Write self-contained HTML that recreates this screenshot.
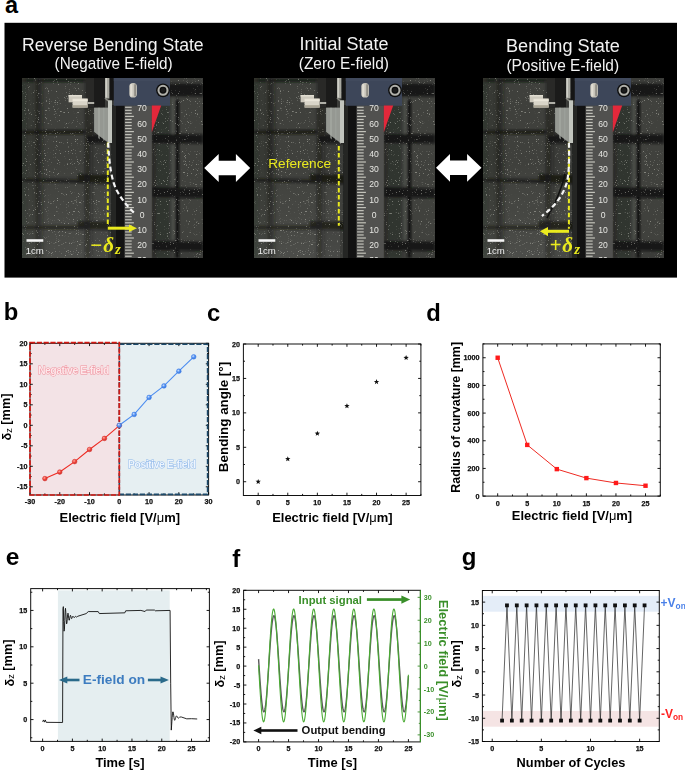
<!DOCTYPE html>
<html><head><meta charset="utf-8"><title>Figure</title>
<style>
html,body{margin:0;padding:0;background:#fff;width:685px;height:771px;overflow:hidden;}
svg{display:block;font-family:"Liberation Sans", sans-serif;}
</style></head><body>
<svg width="685" height="771" viewBox="0 0 685 771">
<defs>
<linearGradient id="lsh" x1="0" y1="0" x2="1" y2="0"><stop offset="0" stop-color="#1c1d1a" stop-opacity="0.75"/><stop offset="1" stop-color="#1c1d1a" stop-opacity="0"/></linearGradient>
<filter id="speck" x="0" y="0" width="100%" height="100%" filterUnits="objectBoundingBox"><feTurbulence type="fractalNoise" baseFrequency="1.1" numOctaves="2" seed="11" result="n"/><feColorMatrix in="n" type="matrix" values="0 0 0 0 0.78  0 0 0 0 0.78  0 0 0 0 0.7  8 0 0 0 -5.3"/><feGaussianBlur stdDeviation="0.3"/></filter>
<linearGradient id="lgt" x1="0" y1="0" x2="0" y2="1"><stop offset="0" stop-color="#fff" stop-opacity="0"/><stop offset="1" stop-color="#fff" stop-opacity="0.07"/></linearGradient>
<filter id="blur1" x="-10%" y="-10%" width="120%" height="120%"><feGaussianBlur stdDeviation="1.1"/></filter>
<radialGradient id="gr" cx="0.38" cy="0.35" r="0.7"><stop offset="0" stop-color="#ffb0a8"/><stop offset="0.45" stop-color="#f04a40"/><stop offset="1" stop-color="#c82420"/></radialGradient>
<radialGradient id="gb" cx="0.38" cy="0.35" r="0.7"><stop offset="0" stop-color="#d0e2ff"/><stop offset="0.45" stop-color="#5a96f2"/><stop offset="1" stop-color="#2f70dc"/></radialGradient>
</defs>
<rect x="0" y="0" width="685" height="771" fill="#fff"/>
<text x="5.10" y="12.90" font-size="23.5" fill="#000" font-weight="bold" text-anchor="start" >a</text><rect x="4.5" y="22.8" width="672.5" height="254.8" fill="#000"/><g transform="translate(22,78)"><svg x="0" y="0" width="181" height="180" overflow="hidden"><rect x="0" y="0" width="181" height="180" fill="#3b3c39" /><rect x="20" y="5" width="44" height="47" fill="#3f403c" /><rect x="20" y="58" width="42" height="40" fill="#3f403c" /><rect x="20" y="105" width="42" height="40" fill="#3f403c" /><rect x="20" y="153" width="42" height="27" fill="#3f403c" /><rect x="66" y="108" width="22" height="35" fill="#3f403c" /><rect x="0" y="0" width="12" height="180" fill="#373934" /><rect x="157" y="19" width="24" height="37" fill="#40413d" /><rect x="157" y="66" width="24" height="43" fill="#40413d" /><rect x="157" y="121" width="24" height="42" fill="#40413d" /><g filter="url(#blur1)"><rect x="0" y="0.5" width="70" height="3.5" fill="#141513" opacity="0.8"/><rect x="12.5" y="0" width="3" height="180" fill="#2e302b" opacity="0.8"/><rect x="14" y="0" width="9" height="180" fill="url(#lsh)"/><rect x="64" y="56" width="8" height="124" fill="url(#lsh)"/><rect x="0" y="0" width="4" height="180" fill="#2e302b" opacity="0.5"/><polygon points="0,52.5 64,52 72,46 72,58 64,56 0,56" fill="#141513" opacity="0.85"/><rect x="64" y="57" width="26" height="8.5" fill="#141513" opacity="0.95"/><polygon points="64,20 72,20 72,58 64,58" fill="#2a2b28" opacity="0.8"/><polygon points="0,100.5 64,102 64,105 0,103.5" fill="#141513" opacity="0.85"/><rect x="0" y="148" width="64" height="3" fill="#141513" opacity="0.85"/><rect x="62.5" y="0" width="2.5" height="180" fill="#2a2b28" opacity="0.8"/><polygon points="56,96 91,97 91,106 56,104" fill="#141513" opacity="0.9"/><polygon points="56,143 91,144 91,152 56,151" fill="#141513" opacity="0.9"/><rect x="130" y="27" width="18" height="153" fill="#2c2d29" opacity="0.55"/><rect x="130" y="27" width="4" height="153" fill="#2a2b27" opacity="0.9"/><polygon points="140,5.5 181,6 181,18.5 140,18" fill="#141513" opacity="0.97"/><rect x="153.5" y="22" width="3.5" height="38" fill="#101010" opacity="0.95"/><polygon points="130,56 181,56.5 181,65.5 130,65" fill="#141513" opacity="0.97"/><rect x="153.5" y="65" width="3.5" height="46" fill="#101010" opacity="0.95"/><polygon points="130,109 181,111 181,120 130,119" fill="#141513" opacity="0.97"/><rect x="153.5" y="119" width="3.5" height="45" fill="#101010" opacity="0.95"/><polygon points="130,163 181,164 181,173 130,172" fill="#141513" opacity="0.97"/><rect x="153.5" y="172" width="3.5" height="8" fill="#101010" opacity="0.95"/><rect x="149.5" y="20" width="3.5" height="36" fill="#50524c" opacity="0.8"/><rect x="149.5" y="67" width="3.5" height="41" fill="#50524c" opacity="0.8"/><rect x="149.5" y="121" width="3.5" height="41" fill="#50524c" opacity="0.8"/></g><rect x="0" y="0" width="181" height="180" filter="url(#speck)" opacity="0.4"/><rect x="0" y="80" width="86" height="100" fill="url(#lgt)"/><rect x="89.5" y="27" width="13.5" height="153" fill="#121212" /><rect x="89.5" y="27" width="4.5" height="153" fill="#252624" /><rect x="64" y="0" width="19" height="29.7" fill="#1b1b1a" /><rect x="64" y="0" width="8" height="29.7" fill="#292927" /><rect x="87.5" y="0" width="4.5" height="22.5" fill="#151515" /><rect x="83" y="0" width="4.3" height="20.4" fill="#a9a9a1" /><rect x="83.6" y="0" width="1.4" height="19.5" fill="#cfcfc7" /><path d="M83,20 Q85,22.8 88.5,23.5" stroke="#8a8a82" stroke-width="1.3" fill="none"/><rect x="91.8" y="0" width="56.2" height="27.3" fill="#3d4659" /><rect x="91.8" y="0" width="56.2" height="3" fill="#414a5d" /><rect x="91.8" y="25.3" width="56.2" height="2.4" fill="#3d4658" /><rect x="107.3" y="5" width="7.6" height="14.5" rx="3.6" fill="#c7c4b9"/><rect x="108.2" y="6" width="2.2" height="12.5" rx="1" fill="#e0ddd2"/><rect x="112.2" y="6" width="1.8" height="12.5" rx="0.9" fill="#8f8c84"/><circle cx="141" cy="12.3" r="6.9" fill="#0e0e0e"/><circle cx="141" cy="12.3" r="4.5" fill="none" stroke="#b0b0aa" stroke-width="2.1"/><circle cx="141" cy="12.3" r="2.2" fill="#1c1c1c"/><rect x="46.6" y="17" width="13.4" height="7.3" fill="#cdc9bd" /><rect x="46.6" y="17" width="13.4" height="1.5" fill="#e2ded2" /><rect x="50.6" y="20.4" width="15.1" height="9.2" fill="#d9d5c8" /><rect x="50.6" y="21.2" width="15.1" height="2" fill="#ebe7da" /><rect x="50.6" y="27.2" width="15.1" height="2.4" fill="#a8a393" /><rect x="65.7" y="24" width="6.5" height="2" fill="#b0b0a8" /><polygon points="72.2,29.7 86,29.7 86,22.5 90,22.5 90,65 86.5,65 72.2,53.8" fill="#8b8e88" /><polygon points="72.2,29.7 86,29.7 86,64 80,60 72.2,53.8" fill="#9a9d97" opacity="0.7"/><polygon points="76,29.7 78,29.7 78,61.5 76,60" fill="#a8aba5" opacity="0.6"/><polygon points="81,29.7 82.5,29.7 82.5,63 81,62.5" fill="#a2a59f" opacity="0.5"/><polygon points="86,22.5 90,22.5 90,65 86.5,65 86,64.6" fill="#c2c5be" /><rect x="102.5" y="27.7" width="27.3" height="152.3" fill="#51514f" /><rect x="103.1" y="28.68" width="6.6" height="1.2" fill="#c2c2ba"/><rect x="103.1" y="31.72" width="6.6" height="1.2" fill="#c2c2ba"/><rect x="103.1" y="34.76" width="6.6" height="1.2" fill="#c2c2ba"/><rect x="103.1" y="37.80" width="8.8" height="1.2" fill="#c2c2ba"/><rect x="103.1" y="40.84" width="6.6" height="1.2" fill="#c2c2ba"/><rect x="103.1" y="43.88" width="6.6" height="1.2" fill="#c2c2ba"/><rect x="103.1" y="46.92" width="6.6" height="1.2" fill="#c2c2ba"/><rect x="103.1" y="49.96" width="6.6" height="1.2" fill="#c2c2ba"/><rect x="103.1" y="53.00" width="8.8" height="1.2" fill="#c2c2ba"/><rect x="103.1" y="56.04" width="6.6" height="1.2" fill="#c2c2ba"/><rect x="103.1" y="59.08" width="6.6" height="1.2" fill="#c2c2ba"/><rect x="103.1" y="62.12" width="6.6" height="1.2" fill="#c2c2ba"/><rect x="103.1" y="65.16" width="6.6" height="1.2" fill="#c2c2ba"/><rect x="103.1" y="68.20" width="8.8" height="1.2" fill="#c2c2ba"/><rect x="103.1" y="71.24" width="6.6" height="1.2" fill="#c2c2ba"/><rect x="103.1" y="74.28" width="6.6" height="1.2" fill="#c2c2ba"/><rect x="103.1" y="77.32" width="6.6" height="1.2" fill="#c2c2ba"/><rect x="103.1" y="80.36" width="6.6" height="1.2" fill="#c2c2ba"/><rect x="103.1" y="83.40" width="8.8" height="1.2" fill="#c2c2ba"/><rect x="103.1" y="86.44" width="6.6" height="1.2" fill="#c2c2ba"/><rect x="103.1" y="89.48" width="6.6" height="1.2" fill="#c2c2ba"/><rect x="103.1" y="92.52" width="6.6" height="1.2" fill="#c2c2ba"/><rect x="103.1" y="95.56" width="6.6" height="1.2" fill="#c2c2ba"/><rect x="103.1" y="98.60" width="8.8" height="1.2" fill="#c2c2ba"/><rect x="103.1" y="101.64" width="6.6" height="1.2" fill="#c2c2ba"/><rect x="103.1" y="104.68" width="6.6" height="1.2" fill="#c2c2ba"/><rect x="103.1" y="107.72" width="6.6" height="1.2" fill="#c2c2ba"/><rect x="103.1" y="110.76" width="6.6" height="1.2" fill="#c2c2ba"/><rect x="103.1" y="113.80" width="8.8" height="1.2" fill="#c2c2ba"/><rect x="103.1" y="116.84" width="6.6" height="1.2" fill="#c2c2ba"/><rect x="103.1" y="119.88" width="6.6" height="1.2" fill="#c2c2ba"/><rect x="103.1" y="122.92" width="6.6" height="1.2" fill="#c2c2ba"/><rect x="103.1" y="125.96" width="6.6" height="1.2" fill="#c2c2ba"/><rect x="103.1" y="129.00" width="8.8" height="1.2" fill="#c2c2ba"/><rect x="103.1" y="132.04" width="6.6" height="1.2" fill="#c2c2ba"/><rect x="103.1" y="135.08" width="6.6" height="1.2" fill="#c2c2ba"/><rect x="103.1" y="138.12" width="6.6" height="1.2" fill="#c2c2ba"/><rect x="103.1" y="141.16" width="6.6" height="1.2" fill="#c2c2ba"/><rect x="103.1" y="144.20" width="8.8" height="1.2" fill="#c2c2ba"/><rect x="103.1" y="147.24" width="6.6" height="1.2" fill="#c2c2ba"/><rect x="103.1" y="150.28" width="6.6" height="1.2" fill="#c2c2ba"/><rect x="103.1" y="153.32" width="6.6" height="1.2" fill="#c2c2ba"/><rect x="103.1" y="156.36" width="6.6" height="1.2" fill="#c2c2ba"/><rect x="103.1" y="159.40" width="8.8" height="1.2" fill="#c2c2ba"/><rect x="103.1" y="162.44" width="6.6" height="1.2" fill="#c2c2ba"/><rect x="103.1" y="165.48" width="6.6" height="1.2" fill="#c2c2ba"/><rect x="103.1" y="168.52" width="6.6" height="1.2" fill="#c2c2ba"/><rect x="103.1" y="171.56" width="6.6" height="1.2" fill="#c2c2ba"/><rect x="103.1" y="174.60" width="8.8" height="1.2" fill="#c2c2ba"/><rect x="103.1" y="177.64" width="6.6" height="1.2" fill="#c2c2ba"/><text x="120.1" y="33.3" font-size="8.6" fill="#e6e6e2" text-anchor="middle">70</text><text x="120.1" y="48.5" font-size="8.6" fill="#e6e6e2" text-anchor="middle">60</text><text x="120.1" y="63.7" font-size="8.6" fill="#e6e6e2" text-anchor="middle">50</text><text x="120.1" y="78.9" font-size="8.6" fill="#e6e6e2" text-anchor="middle">40</text><text x="120.1" y="94.1" font-size="8.6" fill="#e6e6e2" text-anchor="middle">30</text><text x="120.1" y="109.3" font-size="8.6" fill="#e6e6e2" text-anchor="middle">20</text><text x="120.1" y="124.5" font-size="8.6" fill="#e6e6e2" text-anchor="middle">10</text><text x="120.1" y="139.7" font-size="8.6" fill="#e6e6e2" text-anchor="middle">0</text><text x="120.1" y="154.9" font-size="8.6" fill="#e6e6e2" text-anchor="middle">10</text><text x="120.1" y="170.1" font-size="8.6" fill="#e6e6e2" text-anchor="middle">20</text><text x="120.1" y="185.3" font-size="8.6" fill="#e6e6e2" text-anchor="middle">30</text><polygon points="129.8,27.5 139.2,27.5 129.8,54.2" fill="#e3283b" /><rect x="4.5" y="161.2" width="16.8" height="2.6" fill="#f4f4f4" /><text x="3.7" y="176.0" font-size="9.6" fill="#f0f0f0">1cm</text><polyline points="85.8,64.6 85.8,147" fill="none" stroke="#eaea1e" stroke-width="2" stroke-dasharray="4.5 2.5"/><path d="M86.2,64.6 C87,85 89.5,102 94.5,112 C100,122 106,129 113.2,136" fill="none" stroke="#f4f4f4" stroke-width="2.2" stroke-dasharray="5 3"/><rect x="85.8" y="148.7" width="22" height="3" fill="#eaea1e"/><polygon points="107,146.5 115,150.2 107,154" fill="#eaea1e"/><text x="67.6" y="173.6" font-size="21" font-weight="bold" fill="#eaea1e" font-family='"Liberation Serif", serif' font-style="italic">−<tspan dx="0.8" dy="0.8">δ</tspan><tspan font-size="15" dx="1.2" dy="1.6">z</tspan></text></svg></g><g transform="translate(254,78)"><svg x="0" y="0" width="181" height="180" overflow="hidden"><rect x="0" y="0" width="181" height="180" fill="#3b3c39" /><rect x="20" y="5" width="44" height="47" fill="#3f403c" /><rect x="20" y="58" width="42" height="40" fill="#3f403c" /><rect x="20" y="105" width="42" height="40" fill="#3f403c" /><rect x="20" y="153" width="42" height="27" fill="#3f403c" /><rect x="66" y="108" width="22" height="35" fill="#3f403c" /><rect x="0" y="0" width="12" height="180" fill="#373934" /><rect x="157" y="19" width="24" height="37" fill="#40413d" /><rect x="157" y="66" width="24" height="43" fill="#40413d" /><rect x="157" y="121" width="24" height="42" fill="#40413d" /><g filter="url(#blur1)"><rect x="0" y="0.5" width="70" height="3.5" fill="#141513" opacity="0.8"/><rect x="12.5" y="0" width="3" height="180" fill="#2e302b" opacity="0.8"/><rect x="14" y="0" width="9" height="180" fill="url(#lsh)"/><rect x="64" y="56" width="8" height="124" fill="url(#lsh)"/><rect x="0" y="0" width="4" height="180" fill="#2e302b" opacity="0.5"/><polygon points="0,52.5 64,52 72,46 72,58 64,56 0,56" fill="#141513" opacity="0.85"/><rect x="64" y="57" width="26" height="8.5" fill="#141513" opacity="0.95"/><polygon points="64,20 72,20 72,58 64,58" fill="#2a2b28" opacity="0.8"/><polygon points="0,100.5 64,102 64,105 0,103.5" fill="#141513" opacity="0.85"/><rect x="0" y="148" width="64" height="3" fill="#141513" opacity="0.85"/><rect x="62.5" y="0" width="2.5" height="180" fill="#2a2b28" opacity="0.8"/><polygon points="56,96 91,97 91,106 56,104" fill="#141513" opacity="0.9"/><polygon points="56,143 91,144 91,152 56,151" fill="#141513" opacity="0.9"/><rect x="130" y="27" width="18" height="153" fill="#2c2d29" opacity="0.55"/><rect x="130" y="27" width="4" height="153" fill="#2a2b27" opacity="0.9"/><polygon points="140,5.5 181,6 181,18.5 140,18" fill="#141513" opacity="0.97"/><rect x="153.5" y="22" width="3.5" height="38" fill="#101010" opacity="0.95"/><polygon points="130,56 181,56.5 181,65.5 130,65" fill="#141513" opacity="0.97"/><rect x="153.5" y="65" width="3.5" height="46" fill="#101010" opacity="0.95"/><polygon points="130,109 181,111 181,120 130,119" fill="#141513" opacity="0.97"/><rect x="153.5" y="119" width="3.5" height="45" fill="#101010" opacity="0.95"/><polygon points="130,163 181,164 181,173 130,172" fill="#141513" opacity="0.97"/><rect x="153.5" y="172" width="3.5" height="8" fill="#101010" opacity="0.95"/><rect x="149.5" y="20" width="3.5" height="36" fill="#50524c" opacity="0.8"/><rect x="149.5" y="67" width="3.5" height="41" fill="#50524c" opacity="0.8"/><rect x="149.5" y="121" width="3.5" height="41" fill="#50524c" opacity="0.8"/></g><rect x="0" y="0" width="181" height="180" filter="url(#speck)" opacity="0.4"/><rect x="0" y="80" width="86" height="100" fill="url(#lgt)"/><rect x="89.5" y="27" width="13.5" height="153" fill="#121212" /><rect x="89.5" y="27" width="4.5" height="153" fill="#252624" /><rect x="64" y="0" width="19" height="29.7" fill="#1b1b1a" /><rect x="64" y="0" width="8" height="29.7" fill="#292927" /><rect x="87.5" y="0" width="4.5" height="22.5" fill="#151515" /><rect x="83" y="0" width="4.3" height="20.4" fill="#a9a9a1" /><rect x="83.6" y="0" width="1.4" height="19.5" fill="#cfcfc7" /><path d="M83,20 Q85,22.8 88.5,23.5" stroke="#8a8a82" stroke-width="1.3" fill="none"/><rect x="91.8" y="0" width="56.2" height="27.3" fill="#3d4659" /><rect x="91.8" y="0" width="56.2" height="3" fill="#414a5d" /><rect x="91.8" y="25.3" width="56.2" height="2.4" fill="#3d4658" /><rect x="107.3" y="5" width="7.6" height="14.5" rx="3.6" fill="#c7c4b9"/><rect x="108.2" y="6" width="2.2" height="12.5" rx="1" fill="#e0ddd2"/><rect x="112.2" y="6" width="1.8" height="12.5" rx="0.9" fill="#8f8c84"/><circle cx="141" cy="12.3" r="6.9" fill="#0e0e0e"/><circle cx="141" cy="12.3" r="4.5" fill="none" stroke="#b0b0aa" stroke-width="2.1"/><circle cx="141" cy="12.3" r="2.2" fill="#1c1c1c"/><rect x="46.6" y="17" width="13.4" height="7.3" fill="#cdc9bd" /><rect x="46.6" y="17" width="13.4" height="1.5" fill="#e2ded2" /><rect x="50.6" y="20.4" width="15.1" height="9.2" fill="#d9d5c8" /><rect x="50.6" y="21.2" width="15.1" height="2" fill="#ebe7da" /><rect x="50.6" y="27.2" width="15.1" height="2.4" fill="#a8a393" /><rect x="65.7" y="24" width="6.5" height="2" fill="#b0b0a8" /><polygon points="72.2,29.7 86,29.7 86,22.5 90,22.5 90,65 86.5,65 72.2,53.8" fill="#8b8e88" /><polygon points="72.2,29.7 86,29.7 86,64 80,60 72.2,53.8" fill="#9a9d97" opacity="0.7"/><polygon points="76,29.7 78,29.7 78,61.5 76,60" fill="#a8aba5" opacity="0.6"/><polygon points="81,29.7 82.5,29.7 82.5,63 81,62.5" fill="#a2a59f" opacity="0.5"/><polygon points="86,22.5 90,22.5 90,65 86.5,65 86,64.6" fill="#c2c5be" /><rect x="102.5" y="27.7" width="27.3" height="152.3" fill="#51514f" /><rect x="103.1" y="28.68" width="6.6" height="1.2" fill="#c2c2ba"/><rect x="103.1" y="31.72" width="6.6" height="1.2" fill="#c2c2ba"/><rect x="103.1" y="34.76" width="6.6" height="1.2" fill="#c2c2ba"/><rect x="103.1" y="37.80" width="8.8" height="1.2" fill="#c2c2ba"/><rect x="103.1" y="40.84" width="6.6" height="1.2" fill="#c2c2ba"/><rect x="103.1" y="43.88" width="6.6" height="1.2" fill="#c2c2ba"/><rect x="103.1" y="46.92" width="6.6" height="1.2" fill="#c2c2ba"/><rect x="103.1" y="49.96" width="6.6" height="1.2" fill="#c2c2ba"/><rect x="103.1" y="53.00" width="8.8" height="1.2" fill="#c2c2ba"/><rect x="103.1" y="56.04" width="6.6" height="1.2" fill="#c2c2ba"/><rect x="103.1" y="59.08" width="6.6" height="1.2" fill="#c2c2ba"/><rect x="103.1" y="62.12" width="6.6" height="1.2" fill="#c2c2ba"/><rect x="103.1" y="65.16" width="6.6" height="1.2" fill="#c2c2ba"/><rect x="103.1" y="68.20" width="8.8" height="1.2" fill="#c2c2ba"/><rect x="103.1" y="71.24" width="6.6" height="1.2" fill="#c2c2ba"/><rect x="103.1" y="74.28" width="6.6" height="1.2" fill="#c2c2ba"/><rect x="103.1" y="77.32" width="6.6" height="1.2" fill="#c2c2ba"/><rect x="103.1" y="80.36" width="6.6" height="1.2" fill="#c2c2ba"/><rect x="103.1" y="83.40" width="8.8" height="1.2" fill="#c2c2ba"/><rect x="103.1" y="86.44" width="6.6" height="1.2" fill="#c2c2ba"/><rect x="103.1" y="89.48" width="6.6" height="1.2" fill="#c2c2ba"/><rect x="103.1" y="92.52" width="6.6" height="1.2" fill="#c2c2ba"/><rect x="103.1" y="95.56" width="6.6" height="1.2" fill="#c2c2ba"/><rect x="103.1" y="98.60" width="8.8" height="1.2" fill="#c2c2ba"/><rect x="103.1" y="101.64" width="6.6" height="1.2" fill="#c2c2ba"/><rect x="103.1" y="104.68" width="6.6" height="1.2" fill="#c2c2ba"/><rect x="103.1" y="107.72" width="6.6" height="1.2" fill="#c2c2ba"/><rect x="103.1" y="110.76" width="6.6" height="1.2" fill="#c2c2ba"/><rect x="103.1" y="113.80" width="8.8" height="1.2" fill="#c2c2ba"/><rect x="103.1" y="116.84" width="6.6" height="1.2" fill="#c2c2ba"/><rect x="103.1" y="119.88" width="6.6" height="1.2" fill="#c2c2ba"/><rect x="103.1" y="122.92" width="6.6" height="1.2" fill="#c2c2ba"/><rect x="103.1" y="125.96" width="6.6" height="1.2" fill="#c2c2ba"/><rect x="103.1" y="129.00" width="8.8" height="1.2" fill="#c2c2ba"/><rect x="103.1" y="132.04" width="6.6" height="1.2" fill="#c2c2ba"/><rect x="103.1" y="135.08" width="6.6" height="1.2" fill="#c2c2ba"/><rect x="103.1" y="138.12" width="6.6" height="1.2" fill="#c2c2ba"/><rect x="103.1" y="141.16" width="6.6" height="1.2" fill="#c2c2ba"/><rect x="103.1" y="144.20" width="8.8" height="1.2" fill="#c2c2ba"/><rect x="103.1" y="147.24" width="6.6" height="1.2" fill="#c2c2ba"/><rect x="103.1" y="150.28" width="6.6" height="1.2" fill="#c2c2ba"/><rect x="103.1" y="153.32" width="6.6" height="1.2" fill="#c2c2ba"/><rect x="103.1" y="156.36" width="6.6" height="1.2" fill="#c2c2ba"/><rect x="103.1" y="159.40" width="8.8" height="1.2" fill="#c2c2ba"/><rect x="103.1" y="162.44" width="6.6" height="1.2" fill="#c2c2ba"/><rect x="103.1" y="165.48" width="6.6" height="1.2" fill="#c2c2ba"/><rect x="103.1" y="168.52" width="6.6" height="1.2" fill="#c2c2ba"/><rect x="103.1" y="171.56" width="6.6" height="1.2" fill="#c2c2ba"/><rect x="103.1" y="174.60" width="8.8" height="1.2" fill="#c2c2ba"/><rect x="103.1" y="177.64" width="6.6" height="1.2" fill="#c2c2ba"/><text x="120.1" y="33.3" font-size="8.6" fill="#e6e6e2" text-anchor="middle">70</text><text x="120.1" y="48.5" font-size="8.6" fill="#e6e6e2" text-anchor="middle">60</text><text x="120.1" y="63.7" font-size="8.6" fill="#e6e6e2" text-anchor="middle">50</text><text x="120.1" y="78.9" font-size="8.6" fill="#e6e6e2" text-anchor="middle">40</text><text x="120.1" y="94.1" font-size="8.6" fill="#e6e6e2" text-anchor="middle">30</text><text x="120.1" y="109.3" font-size="8.6" fill="#e6e6e2" text-anchor="middle">20</text><text x="120.1" y="124.5" font-size="8.6" fill="#e6e6e2" text-anchor="middle">10</text><text x="120.1" y="139.7" font-size="8.6" fill="#e6e6e2" text-anchor="middle">0</text><text x="120.1" y="154.9" font-size="8.6" fill="#e6e6e2" text-anchor="middle">10</text><text x="120.1" y="170.1" font-size="8.6" fill="#e6e6e2" text-anchor="middle">20</text><text x="120.1" y="185.3" font-size="8.6" fill="#e6e6e2" text-anchor="middle">30</text><polygon points="129.8,27.5 139.2,27.5 129.8,54.2" fill="#e3283b" /><rect x="4.5" y="161.2" width="16.8" height="2.6" fill="#f4f4f4" /><text x="3.7" y="176.0" font-size="9.6" fill="#f0f0f0">1cm</text><polyline points="84.8,68 84.8,147.8" fill="none" stroke="#eaea1e" stroke-width="2" stroke-dasharray="4.5 2.5"/><text x="14.3" y="90.0" font-size="13.6" fill="#eaea1e">Reference</text></svg></g><g transform="translate(483,78)"><svg x="0" y="0" width="181" height="180" overflow="hidden"><rect x="0" y="0" width="181" height="180" fill="#3b3c39" /><rect x="20" y="5" width="44" height="47" fill="#3f403c" /><rect x="20" y="58" width="42" height="40" fill="#3f403c" /><rect x="20" y="105" width="42" height="40" fill="#3f403c" /><rect x="20" y="153" width="42" height="27" fill="#3f403c" /><rect x="66" y="108" width="22" height="35" fill="#3f403c" /><rect x="0" y="0" width="12" height="180" fill="#373934" /><rect x="157" y="19" width="24" height="37" fill="#40413d" /><rect x="157" y="66" width="24" height="43" fill="#40413d" /><rect x="157" y="121" width="24" height="42" fill="#40413d" /><g filter="url(#blur1)"><rect x="0" y="0.5" width="70" height="3.5" fill="#141513" opacity="0.8"/><rect x="12.5" y="0" width="3" height="180" fill="#2e302b" opacity="0.8"/><rect x="14" y="0" width="9" height="180" fill="url(#lsh)"/><rect x="64" y="56" width="8" height="124" fill="url(#lsh)"/><rect x="0" y="0" width="4" height="180" fill="#2e302b" opacity="0.5"/><polygon points="0,52.5 64,52 72,46 72,58 64,56 0,56" fill="#141513" opacity="0.85"/><rect x="64" y="57" width="26" height="8.5" fill="#141513" opacity="0.95"/><polygon points="64,20 72,20 72,58 64,58" fill="#2a2b28" opacity="0.8"/><polygon points="0,100.5 64,102 64,105 0,103.5" fill="#141513" opacity="0.85"/><rect x="0" y="148" width="64" height="3" fill="#141513" opacity="0.85"/><rect x="62.5" y="0" width="2.5" height="180" fill="#2a2b28" opacity="0.8"/><polygon points="56,96 91,97 91,106 56,104" fill="#141513" opacity="0.9"/><polygon points="56,143 91,144 91,152 56,151" fill="#141513" opacity="0.9"/><rect x="130" y="27" width="18" height="153" fill="#2c2d29" opacity="0.55"/><rect x="130" y="27" width="4" height="153" fill="#2a2b27" opacity="0.9"/><polygon points="140,5.5 181,6 181,18.5 140,18" fill="#141513" opacity="0.97"/><rect x="153.5" y="22" width="3.5" height="38" fill="#101010" opacity="0.95"/><polygon points="130,56 181,56.5 181,65.5 130,65" fill="#141513" opacity="0.97"/><rect x="153.5" y="65" width="3.5" height="46" fill="#101010" opacity="0.95"/><polygon points="130,109 181,111 181,120 130,119" fill="#141513" opacity="0.97"/><rect x="153.5" y="119" width="3.5" height="45" fill="#101010" opacity="0.95"/><polygon points="130,163 181,164 181,173 130,172" fill="#141513" opacity="0.97"/><rect x="153.5" y="172" width="3.5" height="8" fill="#101010" opacity="0.95"/><rect x="149.5" y="20" width="3.5" height="36" fill="#50524c" opacity="0.8"/><rect x="149.5" y="67" width="3.5" height="41" fill="#50524c" opacity="0.8"/><rect x="149.5" y="121" width="3.5" height="41" fill="#50524c" opacity="0.8"/></g><rect x="0" y="0" width="181" height="180" filter="url(#speck)" opacity="0.4"/><rect x="0" y="80" width="86" height="100" fill="url(#lgt)"/><rect x="89.5" y="27" width="13.5" height="153" fill="#121212" /><rect x="89.5" y="27" width="4.5" height="153" fill="#252624" /><rect x="64" y="0" width="19" height="29.7" fill="#1b1b1a" /><rect x="64" y="0" width="8" height="29.7" fill="#292927" /><rect x="87.5" y="0" width="4.5" height="22.5" fill="#151515" /><rect x="83" y="0" width="4.3" height="20.4" fill="#a9a9a1" /><rect x="83.6" y="0" width="1.4" height="19.5" fill="#cfcfc7" /><path d="M83,20 Q85,22.8 88.5,23.5" stroke="#8a8a82" stroke-width="1.3" fill="none"/><rect x="91.8" y="0" width="56.2" height="27.3" fill="#3d4659" /><rect x="91.8" y="0" width="56.2" height="3" fill="#414a5d" /><rect x="91.8" y="25.3" width="56.2" height="2.4" fill="#3d4658" /><rect x="107.3" y="5" width="7.6" height="14.5" rx="3.6" fill="#c7c4b9"/><rect x="108.2" y="6" width="2.2" height="12.5" rx="1" fill="#e0ddd2"/><rect x="112.2" y="6" width="1.8" height="12.5" rx="0.9" fill="#8f8c84"/><circle cx="141" cy="12.3" r="6.9" fill="#0e0e0e"/><circle cx="141" cy="12.3" r="4.5" fill="none" stroke="#b0b0aa" stroke-width="2.1"/><circle cx="141" cy="12.3" r="2.2" fill="#1c1c1c"/><rect x="46.6" y="17" width="13.4" height="7.3" fill="#cdc9bd" /><rect x="46.6" y="17" width="13.4" height="1.5" fill="#e2ded2" /><rect x="50.6" y="20.4" width="15.1" height="9.2" fill="#d9d5c8" /><rect x="50.6" y="21.2" width="15.1" height="2" fill="#ebe7da" /><rect x="50.6" y="27.2" width="15.1" height="2.4" fill="#a8a393" /><rect x="65.7" y="24" width="6.5" height="2" fill="#b0b0a8" /><polygon points="72.2,29.7 86,29.7 86,22.5 90,22.5 90,65 86.5,65 72.2,53.8" fill="#8b8e88" /><polygon points="72.2,29.7 86,29.7 86,64 80,60 72.2,53.8" fill="#9a9d97" opacity="0.7"/><polygon points="76,29.7 78,29.7 78,61.5 76,60" fill="#a8aba5" opacity="0.6"/><polygon points="81,29.7 82.5,29.7 82.5,63 81,62.5" fill="#a2a59f" opacity="0.5"/><polygon points="86,22.5 90,22.5 90,65 86.5,65 86,64.6" fill="#c2c5be" /><rect x="102.5" y="27.7" width="27.3" height="152.3" fill="#51514f" /><rect x="103.1" y="28.68" width="6.6" height="1.2" fill="#c2c2ba"/><rect x="103.1" y="31.72" width="6.6" height="1.2" fill="#c2c2ba"/><rect x="103.1" y="34.76" width="6.6" height="1.2" fill="#c2c2ba"/><rect x="103.1" y="37.80" width="8.8" height="1.2" fill="#c2c2ba"/><rect x="103.1" y="40.84" width="6.6" height="1.2" fill="#c2c2ba"/><rect x="103.1" y="43.88" width="6.6" height="1.2" fill="#c2c2ba"/><rect x="103.1" y="46.92" width="6.6" height="1.2" fill="#c2c2ba"/><rect x="103.1" y="49.96" width="6.6" height="1.2" fill="#c2c2ba"/><rect x="103.1" y="53.00" width="8.8" height="1.2" fill="#c2c2ba"/><rect x="103.1" y="56.04" width="6.6" height="1.2" fill="#c2c2ba"/><rect x="103.1" y="59.08" width="6.6" height="1.2" fill="#c2c2ba"/><rect x="103.1" y="62.12" width="6.6" height="1.2" fill="#c2c2ba"/><rect x="103.1" y="65.16" width="6.6" height="1.2" fill="#c2c2ba"/><rect x="103.1" y="68.20" width="8.8" height="1.2" fill="#c2c2ba"/><rect x="103.1" y="71.24" width="6.6" height="1.2" fill="#c2c2ba"/><rect x="103.1" y="74.28" width="6.6" height="1.2" fill="#c2c2ba"/><rect x="103.1" y="77.32" width="6.6" height="1.2" fill="#c2c2ba"/><rect x="103.1" y="80.36" width="6.6" height="1.2" fill="#c2c2ba"/><rect x="103.1" y="83.40" width="8.8" height="1.2" fill="#c2c2ba"/><rect x="103.1" y="86.44" width="6.6" height="1.2" fill="#c2c2ba"/><rect x="103.1" y="89.48" width="6.6" height="1.2" fill="#c2c2ba"/><rect x="103.1" y="92.52" width="6.6" height="1.2" fill="#c2c2ba"/><rect x="103.1" y="95.56" width="6.6" height="1.2" fill="#c2c2ba"/><rect x="103.1" y="98.60" width="8.8" height="1.2" fill="#c2c2ba"/><rect x="103.1" y="101.64" width="6.6" height="1.2" fill="#c2c2ba"/><rect x="103.1" y="104.68" width="6.6" height="1.2" fill="#c2c2ba"/><rect x="103.1" y="107.72" width="6.6" height="1.2" fill="#c2c2ba"/><rect x="103.1" y="110.76" width="6.6" height="1.2" fill="#c2c2ba"/><rect x="103.1" y="113.80" width="8.8" height="1.2" fill="#c2c2ba"/><rect x="103.1" y="116.84" width="6.6" height="1.2" fill="#c2c2ba"/><rect x="103.1" y="119.88" width="6.6" height="1.2" fill="#c2c2ba"/><rect x="103.1" y="122.92" width="6.6" height="1.2" fill="#c2c2ba"/><rect x="103.1" y="125.96" width="6.6" height="1.2" fill="#c2c2ba"/><rect x="103.1" y="129.00" width="8.8" height="1.2" fill="#c2c2ba"/><rect x="103.1" y="132.04" width="6.6" height="1.2" fill="#c2c2ba"/><rect x="103.1" y="135.08" width="6.6" height="1.2" fill="#c2c2ba"/><rect x="103.1" y="138.12" width="6.6" height="1.2" fill="#c2c2ba"/><rect x="103.1" y="141.16" width="6.6" height="1.2" fill="#c2c2ba"/><rect x="103.1" y="144.20" width="8.8" height="1.2" fill="#c2c2ba"/><rect x="103.1" y="147.24" width="6.6" height="1.2" fill="#c2c2ba"/><rect x="103.1" y="150.28" width="6.6" height="1.2" fill="#c2c2ba"/><rect x="103.1" y="153.32" width="6.6" height="1.2" fill="#c2c2ba"/><rect x="103.1" y="156.36" width="6.6" height="1.2" fill="#c2c2ba"/><rect x="103.1" y="159.40" width="8.8" height="1.2" fill="#c2c2ba"/><rect x="103.1" y="162.44" width="6.6" height="1.2" fill="#c2c2ba"/><rect x="103.1" y="165.48" width="6.6" height="1.2" fill="#c2c2ba"/><rect x="103.1" y="168.52" width="6.6" height="1.2" fill="#c2c2ba"/><rect x="103.1" y="171.56" width="6.6" height="1.2" fill="#c2c2ba"/><rect x="103.1" y="174.60" width="8.8" height="1.2" fill="#c2c2ba"/><rect x="103.1" y="177.64" width="6.6" height="1.2" fill="#c2c2ba"/><text x="120.1" y="33.3" font-size="8.6" fill="#e6e6e2" text-anchor="middle">70</text><text x="120.1" y="48.5" font-size="8.6" fill="#e6e6e2" text-anchor="middle">60</text><text x="120.1" y="63.7" font-size="8.6" fill="#e6e6e2" text-anchor="middle">50</text><text x="120.1" y="78.9" font-size="8.6" fill="#e6e6e2" text-anchor="middle">40</text><text x="120.1" y="94.1" font-size="8.6" fill="#e6e6e2" text-anchor="middle">30</text><text x="120.1" y="109.3" font-size="8.6" fill="#e6e6e2" text-anchor="middle">20</text><text x="120.1" y="124.5" font-size="8.6" fill="#e6e6e2" text-anchor="middle">10</text><text x="120.1" y="139.7" font-size="8.6" fill="#e6e6e2" text-anchor="middle">0</text><text x="120.1" y="154.9" font-size="8.6" fill="#e6e6e2" text-anchor="middle">10</text><text x="120.1" y="170.1" font-size="8.6" fill="#e6e6e2" text-anchor="middle">20</text><text x="120.1" y="185.3" font-size="8.6" fill="#e6e6e2" text-anchor="middle">30</text><polygon points="129.8,27.5 139.2,27.5 129.8,54.2" fill="#e3283b" /><rect x="4.5" y="161.2" width="16.8" height="2.6" fill="#f4f4f4" /><text x="3.7" y="176.0" font-size="9.6" fill="#f0f0f0">1cm</text><polyline points="85.9,64.7 85.9,150.7" fill="none" stroke="#eaea1e" stroke-width="2" stroke-dasharray="4.5 2.5"/><path d="M82,96 C79,110 73,124 64,140" fill="none" stroke="#111" stroke-width="1.5"/><path d="M85.9,64.7 C86.5,80 86,95 84,104 C80,118 72,128 58.9,138.1" fill="none" stroke="#f4f4f4" stroke-width="2.2" stroke-dasharray="5 3"/><rect x="64" y="151.8" width="22" height="3" fill="#eaea1e"/><polygon points="65,149 56.9,153.3 65,158.3" fill="#eaea1e"/><text x="66.6" y="173.6" font-size="21" font-weight="bold" fill="#eaea1e" font-family='"Liberation Serif", serif' font-style="italic">+<tspan dx="0.8" dy="0.8">δ</tspan><tspan font-size="15" dx="1.2" dy="1.6">z</tspan></text></svg></g><polygon points="204.2,168.0 218.7,154.1 218.7,160.8 235.9,160.8 235.9,154.1 250.2,168.0 235.9,181.9 235.9,175.2 218.7,175.2 218.7,181.9" fill="#fff"/><polygon points="436.0,167.8 450.0,153.9 450.0,160.6 467.1,160.6 467.1,153.9 481.5,167.8 467.1,181.7 467.1,175.0 450.0,175.0 450.0,181.7" fill="#fff"/><text x="22.0" y="51.0" font-size="19.1" fill="#f2f2f2" textLength="181.7" lengthAdjust="spacingAndGlyphs">Reverse Bending State</text><text x="54.6" y="69.2" font-size="16.2" fill="#f2f2f2" textLength="118.1" lengthAdjust="spacingAndGlyphs">(Negative E-field)</text><text x="299.6" y="50.1" font-size="19.1" fill="#f2f2f2" textLength="88.8" lengthAdjust="spacingAndGlyphs">Initial State</text><text x="298.8" y="68.8" font-size="16.2" fill="#f2f2f2" textLength="90.1" lengthAdjust="spacingAndGlyphs">(Zero E-field)</text><text x="506.0" y="51.7" font-size="19.1" fill="#f2f2f2" textLength="113.9" lengthAdjust="spacingAndGlyphs">Bending State</text><text x="506.4" y="70.6" font-size="16.2" fill="#f2f2f2" textLength="112.7" lengthAdjust="spacingAndGlyphs">(Positive E-field)</text><text x="3.80" y="319.60" font-size="23.8" fill="#000" font-weight="bold" text-anchor="start" >b</text><rect x="30.0" y="343.3" width="89.30" height="151.70" fill="#f3e3e6"/><rect x="119.30" y="343.3" width="89.30" height="151.70" fill="#e6eff2"/><rect x="30.00" y="343.30" width="178.60" height="151.70" fill="none" stroke="#111" stroke-width="1"/><path d="M30.00,495.00v-2.8M30.00,343.30v2.8M59.77,495.00v-2.8M59.77,343.30v2.8M89.53,495.00v-2.8M89.53,343.30v2.8M119.30,495.00v-2.8M119.30,343.30v2.8M149.07,495.00v-2.8M149.07,343.30v2.8M178.83,495.00v-2.8M178.83,343.30v2.8M208.60,495.00v-2.8M208.60,343.30v2.8M44.88,495.00v-1.6M44.88,343.30v1.6M74.65,495.00v-1.6M74.65,343.30v1.6M104.42,495.00v-1.6M104.42,343.30v1.6M134.18,495.00v-1.6M134.18,343.30v1.6M163.95,495.00v-1.6M163.95,343.30v1.6M193.72,495.00v-1.6M193.72,343.30v1.6M30.00,486.80h2.8M208.60,486.80h-2.8M30.00,466.30h2.8M208.60,466.30h-2.8M30.00,445.80h2.8M208.60,445.80h-2.8M30.00,425.30h2.8M208.60,425.30h-2.8M30.00,404.80h2.8M208.60,404.80h-2.8M30.00,384.30h2.8M208.60,384.30h-2.8M30.00,363.80h2.8M208.60,363.80h-2.8M30.00,343.30h2.8M208.60,343.30h-2.8M30.00,476.55h1.6M208.60,476.55h-1.6M30.00,456.05h1.6M208.60,456.05h-1.6M30.00,435.55h1.6M208.60,435.55h-1.6M30.00,415.05h1.6M208.60,415.05h-1.6M30.00,394.55h1.6M208.60,394.55h-1.6M30.00,374.05h1.6M208.60,374.05h-1.6M30.00,353.55h1.6M208.60,353.55h-1.6" stroke="#000" stroke-width="0.9" fill="none"/><rect x="119.30" y="344.30" width="88.30" height="150.10" fill="none" stroke="#1d4a6b" stroke-width="1.6" stroke-dasharray="5.2 1.8"/><rect x="30.0" y="342.70" width="89.30" height="152.30" fill="none" stroke="#d41a14" stroke-width="1.7" stroke-dasharray="5.2 1.6"/><text x="30.00" y="504.00" font-size="7.2" fill="#111" font-weight="bold" text-anchor="middle" stroke="#111" stroke-width="0.25">-30</text><text x="59.77" y="504.00" font-size="7.2" fill="#111" font-weight="bold" text-anchor="middle" stroke="#111" stroke-width="0.25">-20</text><text x="89.53" y="504.00" font-size="7.2" fill="#111" font-weight="bold" text-anchor="middle" stroke="#111" stroke-width="0.25">-10</text><text x="119.30" y="504.00" font-size="7.2" fill="#111" font-weight="bold" text-anchor="middle" stroke="#111" stroke-width="0.25">0</text><text x="149.07" y="504.00" font-size="7.2" fill="#111" font-weight="bold" text-anchor="middle" stroke="#111" stroke-width="0.25">10</text><text x="178.83" y="504.00" font-size="7.2" fill="#111" font-weight="bold" text-anchor="middle" stroke="#111" stroke-width="0.25">20</text><text x="208.60" y="504.00" font-size="7.2" fill="#111" font-weight="bold" text-anchor="middle" stroke="#111" stroke-width="0.25">30</text><text x="27.50" y="489.30" font-size="7.2" fill="#111" font-weight="bold" text-anchor="end" stroke="#111" stroke-width="0.25">-15</text><text x="27.50" y="468.80" font-size="7.2" fill="#111" font-weight="bold" text-anchor="end" stroke="#111" stroke-width="0.25">-10</text><text x="27.50" y="448.30" font-size="7.2" fill="#111" font-weight="bold" text-anchor="end" stroke="#111" stroke-width="0.25">-5</text><text x="27.50" y="427.80" font-size="7.2" fill="#111" font-weight="bold" text-anchor="end" stroke="#111" stroke-width="0.25">0</text><text x="27.50" y="407.30" font-size="7.2" fill="#111" font-weight="bold" text-anchor="end" stroke="#111" stroke-width="0.25">5</text><text x="27.50" y="386.80" font-size="7.2" fill="#111" font-weight="bold" text-anchor="end" stroke="#111" stroke-width="0.25">10</text><text x="27.50" y="366.30" font-size="7.2" fill="#111" font-weight="bold" text-anchor="end" stroke="#111" stroke-width="0.25">15</text><text x="27.50" y="345.80" font-size="7.2" fill="#111" font-weight="bold" text-anchor="end" stroke="#111" stroke-width="0.25">20</text><polyline points="44.88,478.60 59.77,472.04 74.65,461.58 89.53,449.49 104.42,438.42 119.30,425.59" fill="none" stroke="#ee2a22" stroke-width="1.1"/><polyline points="119.30,425.30 134.18,414.44 149.07,397.42 163.95,385.94 178.83,371.18 193.72,356.83" fill="none" stroke="#4d8df0" stroke-width="1.1"/><circle cx="44.88" cy="478.60" r="2.35" fill="url(#gr)" stroke="#d8302a" stroke-width="0.5"/><circle cx="59.77" cy="472.04" r="2.35" fill="url(#gr)" stroke="#d8302a" stroke-width="0.5"/><circle cx="74.65" cy="461.58" r="2.35" fill="url(#gr)" stroke="#d8302a" stroke-width="0.5"/><circle cx="89.53" cy="449.49" r="2.35" fill="url(#gr)" stroke="#d8302a" stroke-width="0.5"/><circle cx="104.42" cy="438.42" r="2.35" fill="url(#gr)" stroke="#d8302a" stroke-width="0.5"/><circle cx="119.30" cy="425.59" r="2.35" fill="url(#gr)" stroke="#d8302a" stroke-width="0.5"/><circle cx="119.30" cy="425.30" r="2.35" fill="url(#gb)" stroke="#3a7ae6" stroke-width="0.5"/><circle cx="134.18" cy="414.44" r="2.35" fill="url(#gb)" stroke="#3a7ae6" stroke-width="0.5"/><circle cx="149.07" cy="397.42" r="2.35" fill="url(#gb)" stroke="#3a7ae6" stroke-width="0.5"/><circle cx="163.95" cy="385.94" r="2.35" fill="url(#gb)" stroke="#3a7ae6" stroke-width="0.5"/><circle cx="178.83" cy="371.18" r="2.35" fill="url(#gb)" stroke="#3a7ae6" stroke-width="0.5"/><circle cx="193.72" cy="356.83" r="2.35" fill="url(#gb)" stroke="#3a7ae6" stroke-width="0.5"/><text x="37.9" y="374.2" font-size="10.4" font-weight="bold" fill="#fde8eb" stroke="#f08e9a" stroke-width="0.9" paint-order="stroke" textLength="71.5">Negative E-field</text><text x="128.1" y="468.4" font-size="10.4" font-weight="bold" fill="#eef5fd" stroke="#8cb6ea" stroke-width="0.9" paint-order="stroke" textLength="67.9">Positive E-field</text><text transform="translate(6.30,417.00) rotate(-90)" x="0" y="0" font-size="12.8" fill="#000" font-weight="bold" text-anchor="middle" dominant-baseline="central"><tspan>δ<tspan font-weight="normal" font-size="0.72em" dy="0.28em">z</tspan></tspan><tspan dy="-0.3em"> [mm]</tspan></text><text x="59.60" y="522.10" font-size="12.95" fill="#000" font-weight="bold" text-anchor="start" >Electric field [V/<tspan font-weight="normal">μ</tspan>m]</text><text x="207.00" y="320.90" font-size="23.8" fill="#000" font-weight="bold" text-anchor="start" >c</text><rect x="243.40" y="344.00" width="177.50" height="151.50" fill="none" stroke="#111" stroke-width="1"/><path d="M258.19,495.50v-2.8M258.19,344.00v2.8M287.77,495.50v-2.8M287.77,344.00v2.8M317.36,495.50v-2.8M317.36,344.00v2.8M346.94,495.50v-2.8M346.94,344.00v2.8M376.52,495.50v-2.8M376.52,344.00v2.8M406.11,495.50v-2.8M406.11,344.00v2.8M272.98,495.50v-1.6M272.98,344.00v1.6M302.57,495.50v-1.6M302.57,344.00v1.6M332.15,495.50v-1.6M332.15,344.00v1.6M361.73,495.50v-1.6M361.73,344.00v1.6M391.32,495.50v-1.6M391.32,344.00v1.6M420.90,495.50v-1.6M420.90,344.00v1.6M243.40,481.73h2.8M420.90,481.73h-2.8M243.40,447.30h2.8M420.90,447.30h-2.8M243.40,412.86h2.8M420.90,412.86h-2.8M243.40,378.43h2.8M420.90,378.43h-2.8M243.40,344.00h2.8M420.90,344.00h-2.8M243.40,464.51h1.6M420.90,464.51h-1.6M243.40,430.08h1.6M420.90,430.08h-1.6M243.40,395.65h1.6M420.90,395.65h-1.6M243.40,361.22h1.6M420.90,361.22h-1.6" stroke="#000" stroke-width="0.9" fill="none"/><text x="258.19" y="505.10" font-size="7.2" fill="#111" font-weight="bold" text-anchor="middle" stroke="#111" stroke-width="0.25">0</text><text x="287.77" y="505.10" font-size="7.2" fill="#111" font-weight="bold" text-anchor="middle" stroke="#111" stroke-width="0.25">5</text><text x="317.36" y="505.10" font-size="7.2" fill="#111" font-weight="bold" text-anchor="middle" stroke="#111" stroke-width="0.25">10</text><text x="346.94" y="505.10" font-size="7.2" fill="#111" font-weight="bold" text-anchor="middle" stroke="#111" stroke-width="0.25">15</text><text x="376.52" y="505.10" font-size="7.2" fill="#111" font-weight="bold" text-anchor="middle" stroke="#111" stroke-width="0.25">20</text><text x="406.11" y="505.10" font-size="7.2" fill="#111" font-weight="bold" text-anchor="middle" stroke="#111" stroke-width="0.25">25</text><text x="240.00" y="484.23" font-size="7.2" fill="#111" font-weight="bold" text-anchor="end" stroke="#111" stroke-width="0.25">0</text><text x="240.00" y="449.80" font-size="7.2" fill="#111" font-weight="bold" text-anchor="end" stroke="#111" stroke-width="0.25">5</text><text x="240.00" y="415.36" font-size="7.2" fill="#111" font-weight="bold" text-anchor="end" stroke="#111" stroke-width="0.25">10</text><text x="240.00" y="380.93" font-size="7.2" fill="#111" font-weight="bold" text-anchor="end" stroke="#111" stroke-width="0.25">15</text><text x="240.00" y="346.50" font-size="7.2" fill="#111" font-weight="bold" text-anchor="end" stroke="#111" stroke-width="0.25">20</text><polygon points="258.19,478.93 258.90,480.76 260.85,480.86 259.33,482.10 259.84,483.99 258.19,482.93 256.55,483.99 257.05,482.10 255.53,480.86 257.49,480.76" fill="#111"/><polygon points="287.77,456.20 288.48,458.03 290.44,458.14 288.92,459.37 289.42,461.27 287.77,460.20 286.13,461.27 286.63,459.37 285.11,458.14 287.07,458.03" fill="#111"/><polygon points="317.36,430.72 318.06,432.55 320.02,432.66 318.50,433.89 319.00,435.79 317.36,434.72 315.71,435.79 316.22,433.89 314.70,432.66 316.65,432.55" fill="#111"/><polygon points="346.94,403.18 347.65,405.01 349.60,405.11 348.08,406.35 348.59,408.24 346.94,407.18 345.30,408.24 345.80,406.35 344.28,405.11 346.24,405.01" fill="#111"/><polygon points="376.52,379.07 377.23,380.90 379.19,381.01 377.67,382.25 378.17,384.14 376.52,383.07 374.88,384.14 375.38,382.25 373.86,381.01 375.82,380.90" fill="#111"/><polygon points="406.11,354.97 406.81,356.80 408.77,356.91 407.25,358.14 407.75,360.04 406.11,358.97 404.46,360.04 404.97,358.14 403.45,356.91 405.40,356.80" fill="#111"/><text transform="translate(223.45,417.00) rotate(-90)" x="0" y="0" font-size="13.4" fill="#000" font-weight="bold" text-anchor="middle" dominant-baseline="central">Bending angle [°]</text><text x="272.20" y="521.70" font-size="12.95" fill="#000" font-weight="bold" text-anchor="start" >Electric field [V/<tspan font-weight="normal">μ</tspan>m]</text><text x="426.20" y="320.80" font-size="23.8" fill="#000" font-weight="bold" text-anchor="start" >d</text><rect x="482.90" y="343.90" width="177.40" height="152.20" fill="none" stroke="#111" stroke-width="1"/><path d="M497.68,496.10v-2.8M497.68,343.90v2.8M527.25,496.10v-2.8M527.25,343.90v2.8M556.82,496.10v-2.8M556.82,343.90v2.8M586.38,496.10v-2.8M586.38,343.90v2.8M615.95,496.10v-2.8M615.95,343.90v2.8M645.52,496.10v-2.8M645.52,343.90v2.8M512.47,496.10v-1.6M512.47,343.90v1.6M542.03,496.10v-1.6M542.03,343.90v1.6M571.60,496.10v-1.6M571.60,343.90v1.6M601.17,496.10v-1.6M601.17,343.90v1.6M630.73,496.10v-1.6M630.73,343.90v1.6M660.30,496.10v-1.6M660.30,343.90v1.6M482.90,496.10h2.8M660.30,496.10h-2.8M482.90,468.43h2.8M660.30,468.43h-2.8M482.90,440.75h2.8M660.30,440.75h-2.8M482.90,413.08h2.8M660.30,413.08h-2.8M482.90,385.41h2.8M660.30,385.41h-2.8M482.90,357.74h2.8M660.30,357.74h-2.8M482.90,482.26h1.6M660.30,482.26h-1.6M482.90,454.59h1.6M660.30,454.59h-1.6M482.90,426.92h1.6M660.30,426.92h-1.6M482.90,399.25h1.6M660.30,399.25h-1.6M482.90,371.57h1.6M660.30,371.57h-1.6M482.90,343.90h1.6M660.30,343.90h-1.6" stroke="#000" stroke-width="0.9" fill="none"/><text x="497.68" y="505.50" font-size="7.2" fill="#111" font-weight="bold" text-anchor="middle" stroke="#111" stroke-width="0.25">0</text><text x="527.25" y="505.50" font-size="7.2" fill="#111" font-weight="bold" text-anchor="middle" stroke="#111" stroke-width="0.25">5</text><text x="556.82" y="505.50" font-size="7.2" fill="#111" font-weight="bold" text-anchor="middle" stroke="#111" stroke-width="0.25">10</text><text x="586.38" y="505.50" font-size="7.2" fill="#111" font-weight="bold" text-anchor="middle" stroke="#111" stroke-width="0.25">15</text><text x="615.95" y="505.50" font-size="7.2" fill="#111" font-weight="bold" text-anchor="middle" stroke="#111" stroke-width="0.25">20</text><text x="645.52" y="505.50" font-size="7.2" fill="#111" font-weight="bold" text-anchor="middle" stroke="#111" stroke-width="0.25">25</text><text x="479.50" y="498.60" font-size="7.2" fill="#111" font-weight="bold" text-anchor="end" stroke="#111" stroke-width="0.25">0</text><text x="479.50" y="470.93" font-size="7.2" fill="#111" font-weight="bold" text-anchor="end" stroke="#111" stroke-width="0.25">200</text><text x="479.50" y="443.25" font-size="7.2" fill="#111" font-weight="bold" text-anchor="end" stroke="#111" stroke-width="0.25">400</text><text x="479.50" y="415.58" font-size="7.2" fill="#111" font-weight="bold" text-anchor="end" stroke="#111" stroke-width="0.25">600</text><text x="479.50" y="387.91" font-size="7.2" fill="#111" font-weight="bold" text-anchor="end" stroke="#111" stroke-width="0.25">800</text><text x="479.50" y="360.24" font-size="7.2" fill="#111" font-weight="bold" text-anchor="end" stroke="#111" stroke-width="0.25">1000</text><polyline points="497.68,357.74 527.25,444.91 556.82,469.12 586.38,478.11 615.95,482.96 645.52,485.72" fill="none" stroke="#ee2a22" stroke-width="1"/><rect x="495.48" y="355.54" width="4.4" height="4.4" fill="#ff1a1a"/><rect x="525.05" y="442.71" width="4.4" height="4.4" fill="#ff1a1a"/><rect x="554.62" y="466.92" width="4.4" height="4.4" fill="#ff1a1a"/><rect x="584.18" y="475.91" width="4.4" height="4.4" fill="#ff1a1a"/><rect x="613.75" y="480.76" width="4.4" height="4.4" fill="#ff1a1a"/><rect x="643.32" y="483.52" width="4.4" height="4.4" fill="#ff1a1a"/><text transform="translate(455.90,417.30) rotate(-90)" x="0" y="0" font-size="12.45" fill="#000" font-weight="bold" text-anchor="middle" dominant-baseline="central">Radius of curvature [mm]</text><text x="511.80" y="520.20" font-size="12.95" fill="#000" font-weight="bold" text-anchor="start" >Electric field [V/<tspan font-weight="normal">μ</tspan>m]</text><text x="5.80" y="565.20" font-size="24.5" fill="#000" font-weight="bold" text-anchor="start" >e</text><rect x="57.9" y="590.4" width="111.8" height="151.0" fill="#e5eef0"/><rect x="30.70" y="588.60" width="178.70" height="152.80" fill="none" stroke="#111" stroke-width="1"/><path d="M42.61,741.40v-2.8M42.61,588.60v2.8M72.40,741.40v-2.8M72.40,588.60v2.8M102.18,741.40v-2.8M102.18,588.60v2.8M131.96,741.40v-2.8M131.96,588.60v2.8M161.75,741.40v-2.8M161.75,588.60v2.8M191.53,741.40v-2.8M191.53,588.60v2.8M57.51,741.40v-1.6M57.51,588.60v1.6M87.29,741.40v-1.6M87.29,588.60v1.6M117.07,741.40v-1.6M117.07,588.60v1.6M146.86,741.40v-1.6M146.86,588.60v1.6M176.64,741.40v-1.6M176.64,588.60v1.6M206.42,741.40v-1.6M206.42,588.60v1.6M30.70,719.57h2.8M209.40,719.57h-2.8M30.70,683.19h2.8M209.40,683.19h-2.8M30.70,646.81h2.8M209.40,646.81h-2.8M30.70,610.43h2.8M209.40,610.43h-2.8M30.70,737.76h1.6M209.40,737.76h-1.6M30.70,701.38h1.6M209.40,701.38h-1.6M30.70,665.00h1.6M209.40,665.00h-1.6M30.70,628.62h1.6M209.40,628.62h-1.6M30.70,592.24h1.6M209.40,592.24h-1.6" stroke="#000" stroke-width="0.9" fill="none"/><text x="42.61" y="750.70" font-size="7.2" fill="#111" font-weight="bold" text-anchor="middle" stroke="#111" stroke-width="0.25">0</text><text x="72.40" y="750.70" font-size="7.2" fill="#111" font-weight="bold" text-anchor="middle" stroke="#111" stroke-width="0.25">5</text><text x="102.18" y="750.70" font-size="7.2" fill="#111" font-weight="bold" text-anchor="middle" stroke="#111" stroke-width="0.25">10</text><text x="131.96" y="750.70" font-size="7.2" fill="#111" font-weight="bold" text-anchor="middle" stroke="#111" stroke-width="0.25">15</text><text x="161.75" y="750.70" font-size="7.2" fill="#111" font-weight="bold" text-anchor="middle" stroke="#111" stroke-width="0.25">20</text><text x="191.53" y="750.70" font-size="7.2" fill="#111" font-weight="bold" text-anchor="middle" stroke="#111" stroke-width="0.25">25</text><text x="27.30" y="722.07" font-size="7.2" fill="#111" font-weight="bold" text-anchor="end" stroke="#111" stroke-width="0.25">0</text><text x="27.30" y="685.69" font-size="7.2" fill="#111" font-weight="bold" text-anchor="end" stroke="#111" stroke-width="0.25">5</text><text x="27.30" y="649.31" font-size="7.2" fill="#111" font-weight="bold" text-anchor="end" stroke="#111" stroke-width="0.25">10</text><text x="27.30" y="612.93" font-size="7.2" fill="#111" font-weight="bold" text-anchor="end" stroke="#111" stroke-width="0.25">15</text><polyline points="42.61,721.75 43.51,719.94 44.40,722.12 45.29,719.94 46.19,722.34 62.57,722.48 62.99,608.97 63.34,606.64 63.70,621.64 64.06,631.20 64.41,629.79 64.77,620.52 65.13,611.26 65.49,608.33 65.84,612.48 66.20,619.45 66.56,623.89 66.92,623.21 67.27,618.87 67.63,614.54 67.99,613.16 68.35,615.07 68.70,618.30 69.06,620.35 69.42,620.02 69.78,617.98 70.13,615.94 70.49,615.27 70.85,616.15 71.21,617.63 71.56,618.57 71.92,618.40 72.28,617.43 72.63,616.46 72.99,616.13 73.35,616.52 73.71,617.19 74.06,617.61 74.42,617.51 74.78,617.04 75.14,616.57 75.49,616.40 75.85,616.56 76.21,616.86 76.57,617.03 76.92,616.97 77.76,616.25 86.10,613.63 88.30,611.59 98.19,611.59 99.32,613.56 124.82,612.83 125.71,610.79 140.90,610.43 145.07,611.52 146.26,610.06 154.42,610.06 155.19,610.79 170.09,610.43 170.68,683.19 171.28,730.12 171.58,725.85 171.87,721.76 172.17,717.39 172.47,713.89 172.77,711.97 173.06,711.78 173.36,713.05 173.66,715.15 173.96,717.39 174.26,719.19 174.55,720.17 174.85,720.27 175.15,719.62 175.45,718.54 175.74,717.39 176.04,716.47 176.34,715.96 176.64,715.91 176.94,716.24 177.23,716.80 177.53,717.39 177.83,717.86 178.13,718.12 178.43,718.15 178.72,717.98 179.02,717.69 179.32,717.39 179.62,717.15 179.91,717.01 181.40,717.02 186.76,718.84 191.53,718.70 197.19,718.99" fill="none" stroke="#111" stroke-width="0.9" stroke-linejoin="round"/><rect x="65" y="678.7" width="14.5" height="2.6" fill="#2a6a8a"/><polygon points="58.9,680.0 67.3,676.4 67.3,683.6" fill="#2a6a8a"/><rect x="147.9" y="678.7" width="15" height="2.6" fill="#2a6a8a"/><polygon points="168.9,680.0 160.5,676.4 160.5,683.6" fill="#2a6a8a"/><text x="82.80" y="683.90" font-size="13.7" fill="#3d7cc0" font-weight="bold" text-anchor="start" >E-field on</text><text transform="translate(8.50,663.00) rotate(-90)" x="0" y="0" font-size="12.8" fill="#000" font-weight="bold" text-anchor="middle" dominant-baseline="central"><tspan>δ<tspan font-weight="normal" font-size="0.72em" dy="0.28em">z</tspan></tspan><tspan dy="-0.3em"> [mm]</tspan></text><text x="95.40" y="766.50" font-size="12.9" fill="#000" font-weight="bold" text-anchor="start" >Time [s]</text><text x="232.20" y="567.40" font-size="24" fill="#000" font-weight="bold" text-anchor="start" >f</text><rect x="243.60" y="590.30" width="176.80" height="151.60" fill="none" stroke="#111" stroke-width="1"/><path d="M258.58,741.90v-2.8M258.58,590.30v2.8M288.55,741.90v-2.8M288.55,590.30v2.8M318.52,741.90v-2.8M318.52,590.30v2.8M348.48,741.90v-2.8M348.48,590.30v2.8M378.45,741.90v-2.8M378.45,590.30v2.8M408.41,741.90v-2.8M408.41,590.30v2.8M273.57,741.90v-1.6M273.57,590.30v1.6M303.53,741.90v-1.6M303.53,590.30v1.6M333.50,741.90v-1.6M333.50,590.30v1.6M363.46,741.90v-1.6M363.46,590.30v1.6M393.43,741.90v-1.6M393.43,590.30v1.6M243.60,741.90h2.8M243.60,722.95h2.8M243.60,704.00h2.8M243.60,685.05h2.8M243.60,666.10h2.8M243.60,647.15h2.8M243.60,628.20h2.8M243.60,609.25h2.8M243.60,590.30h2.8M243.60,732.42h1.6M243.60,713.48h1.6M243.60,694.52h1.6M243.60,675.57h1.6M243.60,656.62h1.6M243.60,637.67h1.6M243.60,618.72h1.6M243.60,599.77h1.6" stroke="#000" stroke-width="0.9" fill="none"/><path d="M420.40,734.86h-2.8M420.40,711.94h-2.8M420.40,689.02h-2.8M420.40,666.10h-2.8M420.40,643.18h-2.8M420.40,620.26h-2.8M420.40,597.34h-2.8M420.40,723.40h-1.6M420.40,700.48h-1.6M420.40,677.56h-1.6M420.40,654.64h-1.6M420.40,631.72h-1.6M420.40,608.80h-1.6" stroke="#3a8f2a" stroke-width="0.9"/><line x1="420.40" y1="590.3" x2="420.40" y2="741.9" stroke="#3a8f2a" stroke-width="1.2"/><text x="258.58" y="751.20" font-size="7.2" fill="#111" font-weight="bold" text-anchor="middle" stroke="#111" stroke-width="0.25">0</text><text x="288.55" y="751.20" font-size="7.2" fill="#111" font-weight="bold" text-anchor="middle" stroke="#111" stroke-width="0.25">5</text><text x="318.52" y="751.20" font-size="7.2" fill="#111" font-weight="bold" text-anchor="middle" stroke="#111" stroke-width="0.25">10</text><text x="348.48" y="751.20" font-size="7.2" fill="#111" font-weight="bold" text-anchor="middle" stroke="#111" stroke-width="0.25">15</text><text x="378.45" y="751.20" font-size="7.2" fill="#111" font-weight="bold" text-anchor="middle" stroke="#111" stroke-width="0.25">20</text><text x="408.41" y="751.20" font-size="7.2" fill="#111" font-weight="bold" text-anchor="middle" stroke="#111" stroke-width="0.25">25</text><text x="240.20" y="744.40" font-size="7.2" fill="#111" font-weight="bold" text-anchor="end" stroke="#111" stroke-width="0.25">-20</text><text x="240.20" y="725.45" font-size="7.2" fill="#111" font-weight="bold" text-anchor="end" stroke="#111" stroke-width="0.25">-15</text><text x="240.20" y="706.50" font-size="7.2" fill="#111" font-weight="bold" text-anchor="end" stroke="#111" stroke-width="0.25">-10</text><text x="240.20" y="687.55" font-size="7.2" fill="#111" font-weight="bold" text-anchor="end" stroke="#111" stroke-width="0.25">-5</text><text x="240.20" y="668.60" font-size="7.2" fill="#111" font-weight="bold" text-anchor="end" stroke="#111" stroke-width="0.25">0</text><text x="240.20" y="649.65" font-size="7.2" fill="#111" font-weight="bold" text-anchor="end" stroke="#111" stroke-width="0.25">5</text><text x="240.20" y="630.70" font-size="7.2" fill="#111" font-weight="bold" text-anchor="end" stroke="#111" stroke-width="0.25">10</text><text x="240.20" y="611.75" font-size="7.2" fill="#111" font-weight="bold" text-anchor="end" stroke="#111" stroke-width="0.25">15</text><text x="240.20" y="592.80" font-size="7.2" fill="#111" font-weight="bold" text-anchor="end" stroke="#111" stroke-width="0.25">20</text><text x="423.80" y="737.36" font-size="7.2" fill="#3a8f2a" font-weight="bold" text-anchor="start" >-30</text><text x="423.80" y="714.44" font-size="7.2" fill="#3a8f2a" font-weight="bold" text-anchor="start" >-20</text><text x="423.80" y="691.52" font-size="7.2" fill="#3a8f2a" font-weight="bold" text-anchor="start" >-10</text><text x="423.80" y="668.60" font-size="7.2" fill="#3a8f2a" font-weight="bold" text-anchor="start" >0</text><text x="423.80" y="645.68" font-size="7.2" fill="#3a8f2a" font-weight="bold" text-anchor="start" >10</text><text x="423.80" y="622.76" font-size="7.2" fill="#3a8f2a" font-weight="bold" text-anchor="start" >20</text><text x="423.80" y="599.84" font-size="7.2" fill="#3a8f2a" font-weight="bold" text-anchor="start" >30</text><polyline points="258.58,659.13 258.77,661.95 258.96,664.77 259.14,667.58 259.33,670.39 259.52,673.17 259.71,675.92 259.89,678.62 260.08,681.28 260.27,683.87 260.46,686.40 260.64,688.85 260.83,691.21 261.02,693.47 261.21,695.64 261.39,697.69 261.58,699.63 261.77,701.44 261.95,703.13 262.14,704.68 262.33,706.08 262.52,707.34 262.70,708.46 262.89,709.41 263.08,710.21 263.27,710.85 263.45,711.33 263.64,711.65 263.83,711.79 264.01,711.78 264.20,711.60 264.39,711.25 264.58,710.74 264.76,710.07 264.95,709.23 265.14,708.25 265.33,707.10 265.51,705.81 265.70,704.38 265.89,702.80 266.07,701.09 266.26,699.25 266.45,697.29 266.64,695.21 266.82,693.03 267.01,690.74 267.20,688.36 267.39,685.90 267.57,683.36 267.76,680.75 267.95,678.08 268.13,675.37 268.32,672.61 268.51,669.83 268.70,667.02 268.88,664.20 269.07,661.38 269.26,658.57 269.45,655.78 269.63,653.01 269.82,650.28 270.01,647.60 270.19,644.97 270.38,642.41 270.57,639.92 270.76,637.51 270.94,635.19 271.13,632.98 271.32,630.86 271.51,628.86 271.69,626.98 271.88,625.23 272.07,623.61 272.26,622.13 272.44,620.79 272.63,619.60 272.82,618.57 273.00,617.68 273.19,616.96 273.38,616.40 273.57,616.00 273.75,615.76 273.94,615.69 274.13,615.79 274.32,616.05 274.50,616.48 274.69,617.06 274.88,617.81 275.06,618.72 275.25,619.78 275.44,621.00 275.63,622.36 275.81,623.86 276.00,625.50 276.19,627.28 276.38,629.18 276.56,631.19 276.75,633.32 276.94,635.56 277.12,637.89 277.31,640.31 277.50,642.81 277.69,645.39 277.87,648.02 278.06,650.71 278.25,653.45 278.44,656.22 278.62,659.02 278.81,661.83 279.00,664.65 279.18,667.47 279.37,670.27 279.56,673.06 279.75,675.81 279.93,678.51 280.12,681.17 280.31,683.77 280.50,686.30 280.68,688.75 280.87,691.11 281.06,693.38 281.24,695.55 281.43,697.61 281.62,699.55 281.81,701.37 281.99,703.06 282.18,704.62 282.37,706.03 282.56,707.30 282.74,708.41 282.93,709.38 283.12,710.18 283.31,710.83 283.49,711.32 283.68,711.64 283.87,711.79 284.05,711.78 284.24,711.61 284.43,711.27 284.62,710.76 284.80,710.10 284.99,709.27 285.18,708.29 285.37,707.15 285.55,705.87 285.74,704.44 285.93,702.87 286.11,701.16 286.30,699.33 286.49,697.37 286.68,695.30 286.86,693.12 287.05,690.84 287.24,688.46 287.43,686.00 287.61,683.46 287.80,680.86 287.99,678.19 288.17,675.48 288.36,672.72 288.55,669.94 288.74,667.13 288.92,664.31 289.11,661.49 289.30,658.68 289.49,655.89 289.67,653.12 289.86,650.39 290.05,647.70 290.23,645.07 290.42,642.51 290.61,640.02 290.80,637.60 290.98,635.28 291.17,633.06 291.36,630.95 291.55,628.94 291.73,627.06 291.92,625.30 292.11,623.67 292.29,622.19 292.48,620.84 292.67,619.65 292.86,618.60 293.04,617.72 293.23,616.99 293.42,616.42 293.61,616.01 293.79,615.77 293.98,615.69 294.17,615.78 294.36,616.04 294.54,616.46 294.73,617.04 294.92,617.78 295.10,618.68 295.29,619.74 295.48,620.95 295.67,622.30 295.85,623.80 296.04,625.44 296.23,627.20 296.42,629.10 296.60,631.11 296.79,633.24 296.98,635.47 297.16,637.79 297.35,640.21 297.54,642.71 297.73,645.28 297.91,647.92 298.10,650.61 298.29,653.34 298.48,656.11 298.66,658.91 298.85,661.72 299.04,664.54 299.22,667.36 299.41,670.16 299.60,672.95 299.79,675.70 299.97,678.41 300.16,681.07 300.35,683.67 300.54,686.20 300.72,688.65 300.91,691.02 301.10,693.30 301.28,695.47 301.47,697.53 301.66,699.48 301.85,701.30 302.03,703.00 302.22,704.56 302.41,705.98 302.60,707.25 302.78,708.37 302.97,709.34 303.16,710.16 303.34,710.81 303.53,711.30 303.72,711.63 303.91,711.79 304.09,711.79 304.28,711.62 304.47,711.28 304.66,710.79 304.84,710.13 305.03,709.31 305.22,708.33 305.41,707.20 305.59,705.92 305.78,704.50 305.97,702.93 306.15,701.23 306.34,699.40 306.53,697.45 306.72,695.38 306.90,693.21 307.09,690.93 307.28,688.56 307.47,686.10 307.65,683.56 307.84,680.96 308.03,678.30 308.21,675.59 308.40,672.84 308.59,670.05 308.78,667.25 308.96,664.43 309.15,661.61 309.34,658.79 309.53,656.00 309.71,653.23 309.90,650.50 310.09,647.81 310.27,645.18 310.46,642.61 310.65,640.11 310.84,637.70 311.02,635.38 311.21,633.15 311.40,631.03 311.59,629.02 311.77,627.13 311.96,625.37 312.15,623.74 312.33,622.24 312.52,620.90 312.71,619.69 312.90,618.64 313.08,617.75 313.27,617.01 313.46,616.44 313.65,616.02 313.83,615.78 314.02,615.69 314.21,615.78 314.39,616.02 314.58,616.44 314.77,617.01 314.96,617.75 315.14,618.64 315.33,619.69 315.52,620.90 315.71,622.24 315.89,623.74 316.08,625.37 316.27,627.13 316.46,629.02 316.64,631.03 316.83,633.15 317.02,635.38 317.20,637.70 317.39,640.11 317.58,642.61 317.77,645.18 317.95,647.81 318.14,650.50 318.33,653.23 318.52,656.00 318.70,658.79 318.89,661.61 319.08,664.43 319.26,667.25 319.45,670.05 319.64,672.84 319.83,675.59 320.01,678.30 320.20,680.96 320.39,683.56 320.58,686.10 320.76,688.56 320.95,690.93 321.14,693.21 321.32,695.38 321.51,697.45 321.70,699.40 321.89,701.23 322.07,702.93 322.26,704.50 322.45,705.92 322.64,707.20 322.82,708.33 323.01,709.31 323.20,710.13 323.38,710.79 323.57,711.28 323.76,711.62 323.95,711.79 324.13,711.79 324.32,711.63 324.51,711.30 324.70,710.81 324.88,710.16 325.07,709.34 325.26,708.37 325.44,707.25 325.63,705.98 325.82,704.56 326.01,703.00 326.19,701.30 326.38,699.48 326.57,697.53 326.76,695.47 326.94,693.30 327.13,691.02 327.32,688.65 327.51,686.20 327.69,683.67 327.88,681.07 328.07,678.41 328.25,675.70 328.44,672.95 328.63,670.16 328.82,667.36 329.00,664.54 329.19,661.72 329.38,658.91 329.57,656.11 329.75,653.34 329.94,650.61 330.13,647.92 330.31,645.28 330.50,642.71 330.69,640.21 330.88,637.79 331.06,635.47 331.25,633.24 331.44,631.11 331.63,629.10 331.81,627.20 332.00,625.44 332.19,623.80 332.37,622.30 332.56,620.95 332.75,619.74 332.94,618.68 333.12,617.78 333.31,617.04 333.50,616.46 333.69,616.04 333.87,615.78 334.06,615.69 334.25,615.77 334.43,616.01 334.62,616.42 334.81,616.99 335.00,617.72 335.18,618.60 335.37,619.65 335.56,620.84 335.75,622.19 335.93,623.67 336.12,625.30 336.31,627.06 336.49,628.94 336.68,630.95 336.87,633.06 337.06,635.28 337.24,637.60 337.43,640.02 337.62,642.51 337.81,645.07 337.99,647.70 338.18,650.39 338.37,653.12 338.56,655.89 338.74,658.68 338.93,661.49 339.12,664.31 339.30,667.13 339.49,669.94 339.68,672.72 339.87,675.48 340.05,678.19 340.24,680.86 340.43,683.46 340.62,686.00 340.80,688.46 340.99,690.84 341.18,693.12 341.36,695.30 341.55,697.37 341.74,699.33 341.93,701.16 342.11,702.87 342.30,704.44 342.49,705.87 342.68,707.15 342.86,708.29 343.05,709.27 343.24,710.10 343.42,710.76 343.61,711.27 343.80,711.61 343.99,711.78 344.17,711.79 344.36,711.64 344.55,711.32 344.74,710.83 344.92,710.18 345.11,709.38 345.30,708.41 345.48,707.30 345.67,706.03 345.86,704.62 346.05,703.06 346.23,701.37 346.42,699.55 346.61,697.61 346.80,695.55 346.98,693.38 347.17,691.11 347.36,688.75 347.54,686.30 347.73,683.77 347.92,681.17 348.11,678.51 348.29,675.81 348.48,673.06 348.67,670.27 348.86,667.47 349.04,664.65 349.23,661.83 349.42,659.02 349.61,656.22 349.79,653.45 349.98,650.71 350.17,648.02 350.35,645.39 350.54,642.81 350.73,640.31 350.92,637.89 351.10,635.56 351.29,633.32 351.48,631.19 351.67,629.18 351.85,627.28 352.04,625.50 352.23,623.86 352.41,622.36 352.60,621.00 352.79,619.78 352.98,618.72 353.16,617.81 353.35,617.06 353.54,616.48 353.73,616.05 353.91,615.79 354.10,615.69 354.29,615.76 354.47,616.00 354.66,616.40 354.85,616.96 355.04,617.68 355.22,618.57 355.41,619.60 355.60,620.79 355.79,622.13 355.97,623.61 356.16,625.23 356.35,626.98 356.53,628.86 356.72,630.86 356.91,632.98 357.10,635.19 357.28,637.51 357.47,639.92 357.66,642.41 357.85,644.97 358.03,647.60 358.22,650.28 358.41,653.01 358.59,655.78 358.78,658.57 358.97,661.38 359.16,664.20 359.34,667.02 359.53,669.83 359.72,672.61 359.91,675.37 360.09,678.08 360.28,680.75 360.47,683.36 360.66,685.90 360.84,688.36 361.03,690.74 361.22,693.03 361.40,695.21 361.59,697.29 361.78,699.25 361.97,701.09 362.15,702.80 362.34,704.38 362.53,705.81 362.72,707.10 362.90,708.25 363.09,709.23 363.28,710.07 363.46,710.74 363.65,711.25 363.84,711.60 364.03,711.78 364.21,711.79 364.40,711.65 364.59,711.33 364.78,710.85 364.96,710.21 365.15,709.41 365.34,708.46 365.52,707.34 365.71,706.08 365.90,704.68 366.09,703.13 366.27,701.44 366.46,699.63 366.65,697.69 366.84,695.64 367.02,693.47 367.21,691.21 367.40,688.85 367.58,686.40 367.77,683.87 367.96,681.28 368.15,678.62 368.33,675.92 368.52,673.17 368.71,670.39 368.90,667.58 369.08,664.77 369.27,661.95 369.46,659.13 369.64,656.33 369.83,653.56 370.02,650.82 370.21,648.13 370.39,645.49 370.58,642.91 370.77,640.41 370.96,637.98 371.14,635.65 371.33,633.41 371.52,631.28 371.71,629.25 371.89,627.35 372.08,625.57 372.27,623.93 372.45,622.42 372.64,621.05 372.83,619.83 373.02,618.76 373.20,617.85 373.39,617.09 373.58,616.50 373.77,616.06 373.95,615.80 374.14,615.69 374.33,615.76 374.51,615.99 374.70,616.38 374.89,616.93 375.08,617.65 375.26,618.53 375.45,619.56 375.64,620.74 375.83,622.08 376.01,623.55 376.20,625.17 376.39,626.91 376.57,628.79 376.76,630.78 376.95,632.89 377.14,635.10 377.32,637.42 377.51,639.82 377.70,642.31 377.89,644.87 378.07,647.49 378.26,650.17 378.45,652.90 378.63,655.66 378.82,658.46 379.01,661.27 379.20,664.09 379.38,666.91 379.57,669.72 379.76,672.50 379.95,675.26 380.13,677.98 380.32,680.65 380.51,683.26 380.69,685.80 380.88,688.27 381.07,690.65 381.26,692.94 381.44,695.13 381.63,697.21 381.82,699.18 382.01,701.02 382.19,702.74 382.38,704.32 382.57,705.76 382.76,707.06 382.94,708.20 383.13,709.20 383.32,710.04 383.50,710.71 383.69,711.23 383.88,711.58 384.07,711.77 384.25,711.80 384.44,711.65 384.63,711.35 384.82,710.88 385.00,710.24 385.19,709.45 385.38,708.50 385.56,707.39 385.75,706.14 385.94,704.73 386.13,703.19 386.31,701.51 386.50,699.70 386.69,697.77 386.88,695.72 387.06,693.56 387.25,691.30 387.44,688.94 387.62,686.50 387.81,683.97 388.00,681.38 388.19,678.73 388.37,676.02 388.56,673.28 388.75,670.50 388.94,667.70 389.12,664.88 389.31,662.06 389.50,659.24 389.68,656.44 389.87,653.67 390.06,650.93 390.25,648.24 390.43,645.59 390.62,643.02 390.81,640.51 391.00,638.08 391.18,635.74 391.37,633.50 391.56,631.36 391.74,629.33 391.93,627.42 392.12,625.64 392.31,623.99 392.49,622.47 392.68,621.10 392.87,619.88 393.06,618.80 393.24,617.88 393.43,617.12 393.62,616.52 393.81,616.08 393.99,615.80 394.18,615.70 394.37,615.75 394.55,615.97 394.74,616.36 394.93,616.91 395.12,617.62 395.30,618.49 395.49,619.51 395.68,620.69 395.87,622.02 396.05,623.49 396.24,625.10 396.43,626.84 396.61,628.71 396.80,630.70 396.99,632.80 397.18,635.01 397.36,637.32 397.55,639.72 397.74,642.20 397.93,644.76 398.11,647.38 398.30,650.06 398.49,652.79 398.67,655.55 398.86,658.35 399.05,661.16 399.24,663.98 399.42,666.79 399.61,669.60 399.80,672.39 399.99,675.15 400.17,677.87 400.36,680.54 400.55,683.15 400.73,685.70 400.92,688.17 401.11,690.55 401.30,692.85 401.48,695.04 401.67,697.13 401.86,699.10 402.05,700.95 402.23,702.67 402.42,704.26 402.61,705.70 402.79,707.01 402.98,708.16 403.17,709.16 403.36,710.01 403.54,710.69 403.73,711.21 403.92,711.57 404.11,711.77 404.29,711.80 404.48,711.66 404.67,711.36 404.86,710.90 405.04,710.27 405.23,709.48 405.42,708.54 405.60,707.44 405.79,706.19 405.98,704.79 406.17,703.26 406.35,701.58 406.54,699.78 406.73,697.85 406.92,695.81 407.10,693.65 407.29,691.39 407.48,689.04 407.66,686.60 407.85,684.08 408.04,681.49 408.23,678.84 408.41,676.13" fill="none" stroke="#5a5a5a" stroke-width="1.4"/><polyline points="258.58,665.28 258.77,668.59 258.96,671.89 259.14,675.16 259.33,678.40 259.52,681.60 259.71,684.74 259.89,687.81 260.08,690.81 260.27,693.72 260.46,696.53 260.64,699.24 260.83,701.83 261.02,704.29 261.21,706.62 261.39,708.80 261.58,710.84 261.77,712.72 261.95,714.44 262.14,715.99 262.33,717.37 262.52,718.56 262.70,719.57 262.89,720.40 263.08,721.04 263.27,721.48 263.45,721.74 263.64,721.79 263.83,721.66 264.01,721.33 264.20,720.81 264.39,720.09 264.58,719.19 264.76,718.11 264.95,716.84 265.14,715.39 265.33,713.77 265.51,711.99 265.70,710.05 265.89,707.95 266.07,705.70 266.26,703.32 266.45,700.80 266.64,698.17 266.82,695.42 267.01,692.57 267.20,689.62 267.39,686.59 267.57,683.49 267.76,680.33 267.95,677.11 268.13,673.85 268.32,670.57 268.51,667.27 268.70,663.96 268.88,660.65 269.07,657.36 269.26,654.10 269.45,650.88 269.63,647.71 269.82,644.60 270.01,641.56 270.19,638.61 270.38,635.74 270.57,632.98 270.76,630.33 270.94,627.80 271.13,625.40 271.32,623.14 271.51,621.02 271.69,619.06 271.88,617.26 272.07,615.62 272.26,614.15 272.44,612.86 272.63,611.75 272.82,610.83 273.00,610.09 273.19,609.55 273.38,609.20 273.57,609.04 273.75,609.07 273.94,609.30 274.13,609.72 274.32,610.34 274.50,611.14 274.69,612.13 274.88,613.31 275.06,614.66 275.25,616.19 275.44,617.89 275.63,619.75 275.81,621.77 276.00,623.94 276.19,626.25 276.38,628.70 276.56,631.27 276.75,633.96 276.94,636.76 277.12,639.66 277.31,642.65 277.50,645.71 277.69,648.85 277.87,652.04 278.06,655.27 278.25,658.55 278.44,661.84 278.62,665.15 278.81,668.46 279.00,671.75 279.18,675.03 279.37,678.27 279.56,681.47 279.75,684.61 279.93,687.69 280.12,690.69 280.31,693.61 280.50,696.42 280.68,699.13 280.87,701.72 281.06,704.19 281.24,706.53 281.43,708.72 281.62,710.76 281.81,712.65 281.99,714.38 282.18,715.93 282.37,717.31 282.56,718.52 282.74,719.54 282.93,720.37 283.12,721.02 283.31,721.47 283.49,721.73 283.68,721.80 283.87,721.67 284.05,721.35 284.24,720.83 284.43,720.13 284.62,719.23 284.80,718.15 284.99,716.89 285.18,715.45 285.37,713.84 285.55,712.06 285.74,710.13 285.93,708.03 286.11,705.79 286.30,703.42 286.49,700.91 286.68,698.28 286.86,695.53 287.05,692.68 287.24,689.74 287.43,686.71 287.61,683.62 287.80,680.45 287.99,677.24 288.17,673.98 288.36,670.70 288.55,667.40 288.74,664.09 288.92,660.78 289.11,657.50 289.30,654.23 289.49,651.01 289.67,647.84 289.86,644.72 290.05,641.68 290.23,638.72 290.42,635.85 290.61,633.09 290.80,630.43 290.98,627.90 291.17,625.49 291.36,623.23 291.55,621.10 291.73,619.14 291.92,617.33 292.11,615.68 292.29,614.21 292.48,612.91 292.67,611.79 292.86,610.86 293.04,610.12 293.23,609.57 293.42,609.21 293.61,609.04 293.79,609.07 293.98,609.29 294.17,609.70 294.36,610.31 294.54,611.11 294.73,612.09 294.92,613.26 295.10,614.60 295.29,616.12 295.48,617.82 295.67,619.67 295.85,621.68 296.04,623.85 296.23,626.15 296.42,628.60 296.60,631.17 296.79,633.85 296.98,636.65 297.16,639.54 297.35,642.53 297.54,645.59 297.73,648.72 297.91,651.91 298.10,655.14 298.29,658.41 298.48,661.71 298.66,665.02 298.85,668.32 299.04,671.62 299.22,674.90 299.41,678.14 299.60,681.34 299.79,684.49 299.97,687.57 300.16,690.57 300.35,693.49 300.54,696.31 300.72,699.02 300.91,701.62 301.10,704.10 301.28,706.44 301.47,708.63 301.66,710.68 301.85,712.58 302.03,714.31 302.22,715.87 302.41,717.26 302.60,718.47 302.78,719.50 302.97,720.34 303.16,720.99 303.34,721.46 303.53,721.72 303.72,721.80 303.91,721.68 304.09,721.36 304.28,720.86 304.47,720.16 304.66,719.27 304.84,718.20 305.03,716.94 305.22,715.51 305.41,713.91 305.59,712.14 305.78,710.21 305.97,708.12 306.15,705.89 306.34,703.51 306.53,701.01 306.72,698.38 306.90,695.64 307.09,692.80 307.28,689.86 307.47,686.84 307.65,683.74 307.84,680.58 308.03,677.37 308.21,674.12 308.40,670.83 308.59,667.53 308.78,664.22 308.96,660.92 309.15,657.63 309.34,654.36 309.53,651.14 309.71,647.96 309.90,644.85 310.09,641.80 310.27,638.84 310.46,635.97 310.65,633.20 310.84,630.54 311.02,628.00 311.21,625.59 311.40,623.32 311.59,621.19 311.77,619.21 311.96,617.39 312.15,615.74 312.33,614.26 312.52,612.96 312.71,611.84 312.90,610.90 313.08,610.15 313.27,609.59 313.46,609.22 313.65,609.04 313.83,609.06 314.02,609.28 314.21,609.68 314.39,610.28 314.58,611.07 314.77,612.05 314.96,613.21 315.14,614.55 315.33,616.06 315.52,617.74 315.71,619.59 315.89,621.60 316.08,623.76 316.27,626.06 316.46,628.50 316.64,631.06 316.83,633.74 317.02,636.53 317.20,639.43 317.39,642.41 317.58,645.47 317.77,648.59 317.95,651.78 318.14,655.01 318.33,658.28 318.52,661.58 318.70,664.88 318.89,668.19 319.08,671.49 319.26,674.77 319.45,678.01 319.64,681.22 319.83,684.37 320.01,687.45 320.20,690.46 320.39,693.38 320.58,696.20 320.76,698.92 320.95,701.52 321.14,704.00 321.32,706.35 321.51,708.55 321.70,710.61 321.89,712.51 322.07,714.24 322.26,715.81 322.45,717.21 322.64,718.43 322.82,719.46 323.01,720.31 323.20,720.97 323.38,721.44 323.57,721.72 323.76,721.80 323.95,721.68 324.13,721.38 324.32,720.88 324.51,720.19 324.70,719.31 324.88,718.25 325.07,717.00 325.26,715.57 325.44,713.98 325.63,712.21 325.82,710.29 326.01,708.21 326.19,705.98 326.38,703.61 326.57,701.11 326.76,698.49 326.94,695.75 327.13,692.91 327.32,689.98 327.51,686.96 327.69,683.87 327.88,680.71 328.07,677.50 328.25,674.25 328.44,670.96 328.63,667.66 328.82,664.35 329.00,661.05 329.19,657.76 329.38,654.49 329.57,651.27 329.75,648.09 329.94,644.97 330.13,641.92 330.31,638.96 330.50,636.08 330.69,633.31 330.88,630.64 331.06,628.10 331.25,625.68 331.44,623.40 331.63,621.27 331.81,619.29 332.00,617.46 332.19,615.81 332.37,614.32 332.56,613.01 332.75,611.88 332.94,610.93 333.12,610.17 333.31,609.60 333.50,609.23 333.69,609.05 333.87,609.06 334.06,609.26 334.25,609.66 334.43,610.25 334.62,611.03 334.81,612.00 335.00,613.16 335.18,614.49 335.37,616.00 335.56,617.67 335.75,619.52 335.93,621.52 336.12,623.67 336.31,625.97 336.49,628.40 336.68,630.96 336.87,633.63 337.06,636.42 337.24,639.31 337.43,642.28 337.62,645.34 337.81,648.47 337.99,651.65 338.18,654.88 338.37,658.15 338.56,661.44 338.74,664.75 338.93,668.06 339.12,671.36 339.30,674.64 339.49,677.89 339.68,681.09 339.87,684.24 340.05,687.33 340.24,690.34 340.43,693.26 340.62,696.09 340.80,698.81 340.99,701.42 341.18,703.90 341.36,706.25 341.55,708.46 341.74,710.53 341.93,712.43 342.11,714.18 342.30,715.75 342.49,717.16 342.68,718.38 342.86,719.43 343.05,720.28 343.24,720.95 343.42,721.43 343.61,721.71 343.80,721.80 343.99,721.69 344.17,721.39 344.36,720.90 344.55,720.22 344.74,719.35 344.92,718.29 345.11,717.05 345.30,715.63 345.48,714.04 345.67,712.29 345.86,710.37 346.05,708.29 346.23,706.07 346.42,703.71 346.61,701.22 346.80,698.60 346.98,695.87 347.17,693.03 347.36,690.10 347.54,687.08 347.73,683.99 347.92,680.84 348.11,677.63 348.29,674.38 348.48,671.10 348.67,667.79 348.86,664.49 349.04,661.18 349.23,657.89 349.42,654.62 349.61,651.39 349.79,648.21 349.98,645.09 350.17,642.04 350.35,639.07 350.54,636.19 350.73,633.42 350.92,630.75 351.10,628.20 351.29,625.78 351.48,623.49 351.67,621.35 351.85,619.36 352.04,617.53 352.23,615.87 352.41,614.37 352.60,613.06 352.79,611.92 352.98,610.96 353.16,610.20 353.35,609.62 353.54,609.24 353.73,609.05 353.91,609.05 354.10,609.25 354.29,609.64 354.47,610.23 354.66,611.00 354.85,611.96 355.04,613.11 355.22,614.43 355.41,615.93 355.60,617.60 355.79,619.44 355.97,621.43 356.16,623.58 356.35,625.87 356.53,628.30 356.72,630.85 356.91,633.52 357.10,636.31 357.28,639.19 357.47,642.16 357.66,645.22 357.85,648.34 358.03,651.52 358.22,654.75 358.41,658.02 358.59,661.31 358.78,664.62 358.97,667.93 359.16,671.23 359.34,674.51 359.53,677.76 359.72,680.96 359.91,684.12 360.09,687.20 360.28,690.22 360.47,693.15 360.66,695.98 360.84,698.70 361.03,701.32 361.22,703.81 361.40,706.16 361.59,708.38 361.78,710.45 361.97,712.36 362.15,714.11 362.34,715.69 362.53,717.10 362.72,718.34 362.90,719.39 363.09,720.25 363.28,720.93 363.46,721.41 363.65,721.70 363.84,721.80 364.03,721.70 364.21,721.41 364.40,720.93 364.59,720.25 364.78,719.39 364.96,718.34 365.15,717.10 365.34,715.69 365.52,714.11 365.71,712.36 365.90,710.45 366.09,708.38 366.27,706.16 366.46,703.81 366.65,701.32 366.84,698.70 367.02,695.98 367.21,693.15 367.40,690.22 367.58,687.20 367.77,684.12 367.96,680.96 368.15,677.76 368.33,674.51 368.52,671.23 368.71,667.93 368.90,664.62 369.08,661.31 369.27,658.02 369.46,654.75 369.64,651.52 369.83,648.34 370.02,645.22 370.21,642.16 370.39,639.19 370.58,636.31 370.77,633.52 370.96,630.85 371.14,628.30 371.33,625.87 371.52,623.58 371.71,621.43 371.89,619.44 372.08,617.60 372.27,615.93 372.45,614.43 372.64,613.11 372.83,611.96 373.02,611.00 373.20,610.23 373.39,609.64 373.58,609.25 373.77,609.05 373.95,609.05 374.14,609.24 374.33,609.62 374.51,610.20 374.70,610.96 374.89,611.92 375.08,613.06 375.26,614.37 375.45,615.87 375.64,617.53 375.83,619.36 376.01,621.35 376.20,623.49 376.39,625.78 376.57,628.20 376.76,630.75 376.95,633.42 377.14,636.19 377.32,639.07 377.51,642.04 377.70,645.09 377.89,648.21 378.07,651.39 378.26,654.62 378.45,657.89 378.63,661.18 378.82,664.49 379.01,667.79 379.20,671.10 379.38,674.38 379.57,677.63 379.76,680.84 379.95,683.99 380.13,687.08 380.32,690.10 380.51,693.03 380.69,695.87 380.88,698.60 381.07,701.22 381.26,703.71 381.44,706.07 381.63,708.29 381.82,710.37 382.01,712.29 382.19,714.04 382.38,715.63 382.57,717.05 382.76,718.29 382.94,719.35 383.13,720.22 383.32,720.90 383.50,721.39 383.69,721.69 383.88,721.80 384.07,721.71 384.25,721.43 384.44,720.95 384.63,720.28 384.82,719.43 385.00,718.38 385.19,717.16 385.38,715.75 385.56,714.18 385.75,712.43 385.94,710.53 386.13,708.46 386.31,706.25 386.50,703.90 386.69,701.42 386.88,698.81 387.06,696.09 387.25,693.26 387.44,690.34 387.62,687.33 387.81,684.24 388.00,681.09 388.19,677.89 388.37,674.64 388.56,671.36 388.75,668.06 388.94,664.75 389.12,661.44 389.31,658.15 389.50,654.88 389.68,651.65 389.87,648.47 390.06,645.34 390.25,642.28 390.43,639.31 390.62,636.42 390.81,633.63 391.00,630.96 391.18,628.40 391.37,625.97 391.56,623.67 391.74,621.52 391.93,619.52 392.12,617.67 392.31,616.00 392.49,614.49 392.68,613.16 392.87,612.00 393.06,611.03 393.24,610.25 393.43,609.66 393.62,609.26 393.81,609.06 393.99,609.05 394.18,609.23 394.37,609.60 394.55,610.17 394.74,610.93 394.93,611.88 395.12,613.01 395.30,614.32 395.49,615.81 395.68,617.46 395.87,619.29 396.05,621.27 396.24,623.40 396.43,625.68 396.61,628.10 396.80,630.64 396.99,633.31 397.18,636.08 397.36,638.96 397.55,641.92 397.74,644.97 397.93,648.09 398.11,651.27 398.30,654.49 398.49,657.76 398.67,661.05 398.86,664.35 399.05,667.66 399.24,670.96 399.42,674.25 399.61,677.50 399.80,680.71 399.99,683.87 400.17,686.96 400.36,689.98 400.55,692.91 400.73,695.75 400.92,698.49 401.11,701.11 401.30,703.61 401.48,705.98 401.67,708.21 401.86,710.29 402.05,712.21 402.23,713.98 402.42,715.57 402.61,717.00 402.79,718.25 402.98,719.31 403.17,720.19 403.36,720.88 403.54,721.38 403.73,721.68 403.92,721.80 404.11,721.72 404.29,721.44 404.48,720.97 404.67,720.31 404.86,719.46 405.04,718.43 405.23,717.21 405.42,715.81 405.60,714.24 405.79,712.51 405.98,710.61 406.17,708.55 406.35,706.35 406.54,704.00 406.73,701.52 406.92,698.92 407.10,696.20 407.29,693.38 407.48,690.46 407.66,687.45 407.85,684.37 408.04,681.22 408.23,678.01 408.41,674.77" fill="none" stroke="#4aaa34" stroke-width="1.1"/><text x="298.60" y="604.20" font-size="11.3" fill="#3a8f2a" font-weight="bold" text-anchor="start" >Input signal</text><rect x="366.9" y="598.2" width="35" height="2.7" fill="#3a8f2a"/><polygon points="410.2,599.5 401.4,595.4 401.4,603.8" fill="#3a8f2a"/><text x="301.60" y="733.70" font-size="11.3" fill="#111" font-weight="bold" text-anchor="start" >Output bending</text><rect x="260" y="729.2" width="37.5" height="2.6" fill="#111"/><polygon points="253.4,730.5 261.3,726.7 261.3,734.3" fill="#111"/><text transform="translate(219.40,664.00) rotate(-90)" x="0" y="0" font-size="12.8" fill="#000" font-weight="bold" text-anchor="middle" dominant-baseline="central"><tspan>δ<tspan font-weight="normal" font-size="0.72em" dy="0.28em">z</tspan></tspan><tspan dy="-0.3em"> [mm]</tspan></text><text transform="translate(443.60,660.30) rotate(90)" x="0" y="0" font-size="13.0" fill="#3a8f2a" font-weight="bold" text-anchor="middle" dominant-baseline="central">Electric field [V/<tspan font-weight="normal">μ</tspan>m]</text><text x="307.80" y="766.50" font-size="12.9" fill="#000" font-weight="bold" text-anchor="start" >Time [s]</text><text x="461.80" y="565.30" font-size="24" fill="#000" font-weight="bold" text-anchor="start" >g</text><rect x="482.4" y="595.9" width="176.90" height="15.8" fill="#e4edf8"/><rect x="482.4" y="710.9" width="176.90" height="15.8" fill="#f5e4e4"/><rect x="482.40" y="590.50" width="176.90" height="151.00" fill="none" stroke="#111" stroke-width="1"/><path d="M492.23,741.50v-2.8M492.23,590.50v2.8M541.37,741.50v-2.8M541.37,590.50v2.8M590.51,741.50v-2.8M590.51,590.50v2.8M639.64,741.50v-2.8M639.64,590.50v2.8M516.80,741.50v-1.6M516.80,590.50v1.6M565.94,741.50v-1.6M565.94,590.50v1.6M615.07,741.50v-1.6M615.07,590.50v1.6M482.40,741.50h2.8M659.30,741.50h-2.8M482.40,718.27h2.8M659.30,718.27h-2.8M482.40,695.04h2.8M659.30,695.04h-2.8M482.40,671.81h2.8M659.30,671.81h-2.8M482.40,648.58h2.8M659.30,648.58h-2.8M482.40,625.35h2.8M659.30,625.35h-2.8M482.40,602.12h2.8M659.30,602.12h-2.8M482.40,729.88h1.6M659.30,729.88h-1.6M482.40,706.65h1.6M659.30,706.65h-1.6M482.40,683.42h1.6M659.30,683.42h-1.6M482.40,660.19h1.6M659.30,660.19h-1.6M482.40,636.96h1.6M659.30,636.96h-1.6M482.40,613.73h1.6M659.30,613.73h-1.6M482.40,590.50h1.6M659.30,590.50h-1.6" stroke="#000" stroke-width="0.9" fill="none"/><text x="492.23" y="750.80" font-size="7.2" fill="#111" font-weight="bold" text-anchor="middle" stroke="#111" stroke-width="0.25">0</text><text x="541.37" y="750.80" font-size="7.2" fill="#111" font-weight="bold" text-anchor="middle" stroke="#111" stroke-width="0.25">5</text><text x="590.51" y="750.80" font-size="7.2" fill="#111" font-weight="bold" text-anchor="middle" stroke="#111" stroke-width="0.25">10</text><text x="639.64" y="750.80" font-size="7.2" fill="#111" font-weight="bold" text-anchor="middle" stroke="#111" stroke-width="0.25">15</text><text x="479.00" y="744.00" font-size="7.2" fill="#111" font-weight="bold" text-anchor="end" stroke="#111" stroke-width="0.25">-15</text><text x="479.00" y="720.77" font-size="7.2" fill="#111" font-weight="bold" text-anchor="end" stroke="#111" stroke-width="0.25">-10</text><text x="479.00" y="697.54" font-size="7.2" fill="#111" font-weight="bold" text-anchor="end" stroke="#111" stroke-width="0.25">-5</text><text x="479.00" y="674.31" font-size="7.2" fill="#111" font-weight="bold" text-anchor="end" stroke="#111" stroke-width="0.25">0</text><text x="479.00" y="651.08" font-size="7.2" fill="#111" font-weight="bold" text-anchor="end" stroke="#111" stroke-width="0.25">5</text><text x="479.00" y="627.85" font-size="7.2" fill="#111" font-weight="bold" text-anchor="end" stroke="#111" stroke-width="0.25">10</text><text x="479.00" y="604.62" font-size="7.2" fill="#111" font-weight="bold" text-anchor="end" stroke="#111" stroke-width="0.25">15</text><polyline points="502.06,720.59 506.97,605.37 511.88,720.59 516.80,605.37 521.71,720.59 526.62,605.37 531.54,720.59 536.45,605.37 541.37,720.59 546.28,605.37 551.19,720.59 556.11,605.37 561.02,720.59 565.94,605.37 570.85,720.59 575.76,605.37 580.68,720.59 585.59,605.37 590.51,720.59 595.42,605.37 600.33,720.59 605.25,605.37 610.16,720.59 615.07,605.37 619.99,720.59 624.90,605.37 629.82,720.59 634.73,605.37 639.64,720.59 644.56,605.37" fill="none" stroke="#222" stroke-width="0.7"/><rect x="500.16" y="718.69" width="3.8" height="3.8" fill="#111"/><rect x="505.07" y="603.47" width="3.8" height="3.8" fill="#111"/><rect x="509.98" y="718.69" width="3.8" height="3.8" fill="#111"/><rect x="514.90" y="603.47" width="3.8" height="3.8" fill="#111"/><rect x="519.81" y="718.69" width="3.8" height="3.8" fill="#111"/><rect x="524.73" y="603.47" width="3.8" height="3.8" fill="#111"/><rect x="529.64" y="718.69" width="3.8" height="3.8" fill="#111"/><rect x="534.55" y="603.47" width="3.8" height="3.8" fill="#111"/><rect x="539.47" y="718.69" width="3.8" height="3.8" fill="#111"/><rect x="544.38" y="603.47" width="3.8" height="3.8" fill="#111"/><rect x="549.29" y="718.69" width="3.8" height="3.8" fill="#111"/><rect x="554.21" y="603.47" width="3.8" height="3.8" fill="#111"/><rect x="559.12" y="718.69" width="3.8" height="3.8" fill="#111"/><rect x="564.04" y="603.47" width="3.8" height="3.8" fill="#111"/><rect x="568.95" y="718.69" width="3.8" height="3.8" fill="#111"/><rect x="573.86" y="603.47" width="3.8" height="3.8" fill="#111"/><rect x="578.78" y="718.69" width="3.8" height="3.8" fill="#111"/><rect x="583.69" y="603.47" width="3.8" height="3.8" fill="#111"/><rect x="588.61" y="718.69" width="3.8" height="3.8" fill="#111"/><rect x="593.52" y="603.47" width="3.8" height="3.8" fill="#111"/><rect x="598.43" y="718.69" width="3.8" height="3.8" fill="#111"/><rect x="603.35" y="603.47" width="3.8" height="3.8" fill="#111"/><rect x="608.26" y="718.69" width="3.8" height="3.8" fill="#111"/><rect x="613.17" y="603.47" width="3.8" height="3.8" fill="#111"/><rect x="618.09" y="718.69" width="3.8" height="3.8" fill="#111"/><rect x="623.00" y="603.47" width="3.8" height="3.8" fill="#111"/><rect x="627.92" y="718.69" width="3.8" height="3.8" fill="#111"/><rect x="632.83" y="603.47" width="3.8" height="3.8" fill="#111"/><rect x="637.74" y="718.69" width="3.8" height="3.8" fill="#111"/><rect x="642.66" y="603.47" width="3.8" height="3.8" fill="#111"/><text x="660.60" y="606.80" font-size="12" fill="#4a80e8" font-weight="bold" text-anchor="start" >+V<tspan font-size="8.3" dy="2.4">on</tspan></text><text x="661.00" y="717.80" font-size="12" fill="#ff2222" font-weight="bold" text-anchor="start" >-V<tspan font-size="8.3" dy="2.6">on</tspan></text><text transform="translate(456.20,663.80) rotate(-90)" x="0" y="0" font-size="12.8" fill="#000" font-weight="bold" text-anchor="middle" dominant-baseline="central"><tspan>δ<tspan font-weight="normal" font-size="0.72em" dy="0.28em">z</tspan></tspan><tspan dy="-0.3em"> [mm]</tspan></text><text x="516.60" y="766.50" font-size="12.8" fill="#000" font-weight="bold" text-anchor="start" >Number of Cycles</text>
</svg>
</body></html>
